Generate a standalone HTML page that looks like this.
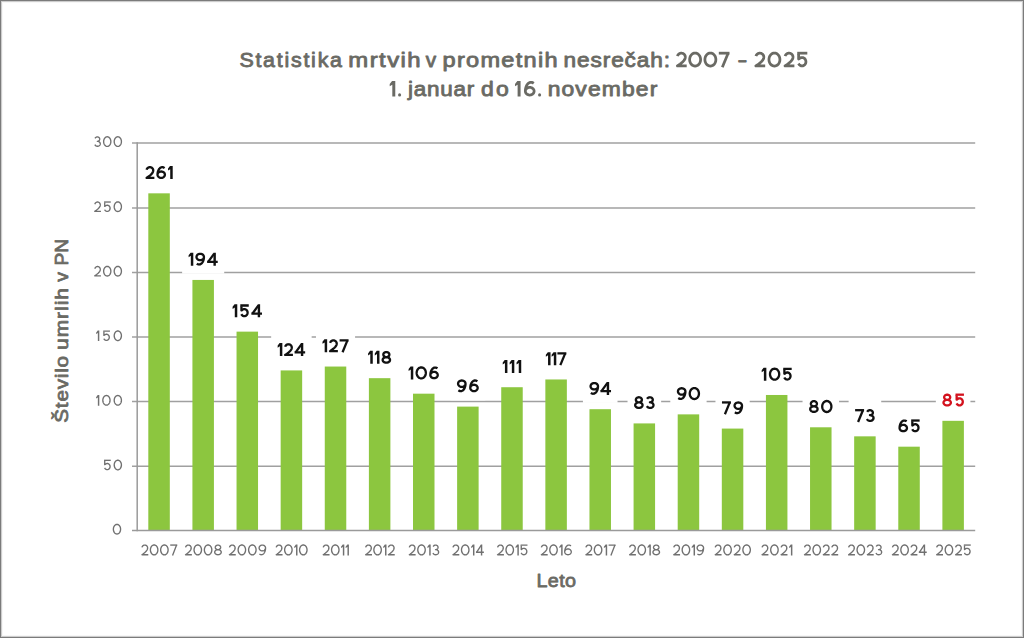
<!DOCTYPE html>
<html><head><meta charset="utf-8"><style>
html,body{margin:0;padding:0;background:#fff;}
body{width:1024px;height:638px;overflow:hidden;position:relative;}
.frame{position:absolute;left:0;top:0;width:1022px;height:636px;border:1px solid #7b7b7b;box-shadow:inset 0 0 0 1px #cdcdcd, inset 0 0 0 2px #f7f7f7;}
svg{position:absolute;left:0;top:0;}
text{font-family:"Liberation Sans",sans-serif;}
</style></head><body>
<svg width="1024" height="638" viewBox="0 0 1024 638">
<text x="0.00" y="67.20" font-size="20.7" font-weight="normal" fill="#6a6a64" stroke="#6a6a64" stroke-width="0.85" stroke-linejoin="round" textLength="99.29" lengthAdjust="spacing" transform="translate(239.39,0) scale(1.0332,1)">Statistika</text>
<text x="0.00" y="67.20" font-size="20.7" font-weight="normal" fill="#6a6a64" stroke="#6a6a64" stroke-width="0.85" stroke-linejoin="round" textLength="62.52" lengthAdjust="spacing" transform="translate(348.35,0) scale(1.1544,1)">mrtvih</text>
<text x="0.00" y="67.20" font-size="20.7" font-weight="normal" fill="#6a6a64" stroke="#6a6a64" stroke-width="0.85" stroke-linejoin="round" transform="translate(425.85,0) scale(1.0022,1)">v</text>
<text x="0.00" y="67.20" font-size="20.7" font-weight="normal" fill="#6a6a64" stroke="#6a6a64" stroke-width="0.85" stroke-linejoin="round" textLength="101.18" lengthAdjust="spacing" transform="translate(442.49,0) scale(1.1379,1)">prometnih</text>
<text x="0.00" y="67.20" font-size="20.7" font-weight="normal" fill="#6a6a64" stroke="#6a6a64" stroke-width="0.85" stroke-linejoin="round" textLength="97.32" lengthAdjust="spacing" transform="translate(563.55,0) scale(1.0944,1)">nesrečah:</text>
<path d="M677.46,56.2 L677.6,55.72 L677.81,55.26 L678.07,54.83 L678.4,54.44 L678.77,54.09 L679.18,53.79 L679.64,53.55 L680.12,53.36 L680.62,53.24 L681.14,53.18 L681.66,53.19 L682.17,53.26 L682.67,53.39 L683.15,53.59 L683.6,53.85 L684.01,54.16 L684.37,54.52 L684.68,54.92 L684.93,55.35 L685.13,55.82 L685.25,56.3 L685.31,56.8 L685.31,57.3 L685.23,57.8 L685.1,58.46 L684.82,59.15 L684.4,59.88 L683.83,60.64 L683.11,61.44 L682.26,62.27 L681.25,63.13 L680.1,64.03 L678.81,64.96 L677.38,65.92 L686.7,65.92 M700.6,59.55 L700.49,60.82 L700.18,62.05 L699.67,63.18 L698.99,64.16 L698.16,64.98 L697.21,65.58 L696.18,65.95 L695.11,66.08 L694.04,65.95 L693.01,65.58 L692.07,64.98 L691.23,64.16 L690.55,63.18 L690.05,62.05 L689.73,60.82 L689.63,59.55 L689.73,58.28 L690.05,57.05 L690.55,55.92 L691.23,54.94 L692.07,54.12 L693.01,53.52 L694.04,53.15 L695.11,53.02 L696.18,53.15 L697.21,53.52 L698.16,54.12 L698.99,54.94 L699.67,55.92 L700.18,57.05 L700.49,58.28 L700.6,59.55 Z M715.87,59.55 L715.77,60.82 L715.45,62.05 L714.95,63.18 L714.27,64.16 L713.43,64.98 L712.49,65.58 L711.46,65.95 L710.39,66.08 L709.32,65.95 L708.29,65.58 L707.34,64.98 L706.51,64.16 L705.83,63.18 L705.32,62.05 L705.01,60.82 L704.9,59.55 L705.01,58.28 L705.32,57.05 L705.83,55.92 L706.51,54.94 L707.34,54.12 L708.29,53.52 L709.32,53.15 L710.39,53.02 L711.46,53.15 L712.49,53.52 L713.43,54.12 L714.27,54.94 L714.95,55.92 L715.45,57.05 L715.77,58.28 L715.87,59.55 Z M728.13,53.17 L722.33,67.3" fill="none" stroke="#6a6a64" stroke-width="2.75" stroke-linecap="butt" stroke-linejoin="round"/><path d="M718.81,51.8 L729.5,51.8 L729.5,54.55 L718.81,54.55 Z" fill="#6a6a64"/>
<text x="0.00" y="67.20" font-size="20.7" font-weight="normal" fill="#6a6a64" stroke="#6a6a64" stroke-width="0.85" stroke-linejoin="round" transform="translate(737.41,0) scale(1.4202,1)">-</text>
<path d="M755.96,56.2 L756.1,55.72 L756.31,55.26 L756.57,54.83 L756.9,54.44 L757.27,54.09 L757.68,53.79 L758.14,53.55 L758.62,53.36 L759.12,53.24 L759.64,53.18 L760.16,53.19 L760.67,53.26 L761.17,53.39 L761.65,53.59 L762.1,53.85 L762.51,54.16 L762.87,54.52 L763.18,54.92 L763.43,55.35 L763.63,55.82 L763.75,56.3 L763.81,56.8 L763.81,57.3 L763.73,57.8 L763.6,58.46 L763.32,59.15 L762.9,59.88 L762.33,60.64 L761.61,61.44 L760.76,62.27 L759.75,63.13 L758.6,64.03 L757.31,64.96 L755.88,65.92 L765.2,65.92 M779.92,59.55 L779.82,60.82 L779.5,62.05 L779,63.18 L778.32,64.16 L777.48,64.98 L776.54,65.58 L775.51,65.95 L774.44,66.08 L773.37,65.95 L772.34,65.58 L771.39,64.98 L770.56,64.16 L769.88,63.18 L769.37,62.05 L769.06,60.82 L768.95,59.55 L769.06,58.28 L769.37,57.05 L769.88,55.92 L770.56,54.94 L771.39,54.12 L772.34,53.52 L773.37,53.15 L774.44,53.02 L775.51,53.15 L776.54,53.52 L777.48,54.12 L778.32,54.94 L779,55.92 L779.5,57.05 L779.82,58.28 L779.92,59.55 Z M785.14,56.2 L785.28,55.72 L785.49,55.26 L785.75,54.83 L786.08,54.44 L786.45,54.09 L786.86,53.79 L787.32,53.55 L787.8,53.36 L788.3,53.24 L788.82,53.18 L789.34,53.19 L789.85,53.26 L790.35,53.39 L790.83,53.59 L791.28,53.85 L791.69,54.16 L792.05,54.52 L792.36,54.92 L792.61,55.35 L792.81,55.82 L792.93,56.3 L793,56.8 L792.99,57.3 L792.91,57.8 L792.78,58.46 L792.5,59.15 L792.08,59.88 L791.51,60.64 L790.79,61.44 L789.94,62.27 L788.93,63.13 L787.79,64.03 L786.49,64.96 L785.06,65.92 L794.38,65.92 M798.6,54 L798.6,59.11 L799.17,58.86 L799.72,58.33 L800.35,57.92 L801.04,57.65 L801.77,57.52 L802.5,57.54 L803.22,57.71 L803.89,58.02 L804.5,58.47 L805.02,59.03 L805.44,59.68 L805.73,60.41 L805.89,61.18 L805.92,61.97 L805.8,62.76 L805.56,63.51 L805.18,64.19 L804.7,64.78 L804.12,65.27 L803.46,65.63 L802.76,65.85 L802.03,65.92 L801.29,65.85 L800.59,65.63 L799.94,65.26 L799.36,64.78 L798.87,64.18 L798.5,63.5" fill="none" stroke="#6a6a64" stroke-width="2.75" stroke-linecap="butt" stroke-linejoin="round"/><path d="M797.23,51.8 L807.3,51.8 L807.3,54.55 L797.23,54.55 Z" fill="#6a6a64"/>
<path d="M395.28,80.9 L395.28,96.4 L392.31,96.4 L392.31,84.69 L389.7,86.36 L389.7,83.88 L392.03,80.9 Z" fill="#6a6a64"/>
<circle cx="399.60" cy="94.90" r="1.55" fill="#6a6a64"/>
<text x="0.00" y="96.40" font-size="20.7" font-weight="normal" fill="#6a6a64" stroke="#6a6a64" stroke-width="0.85" stroke-linejoin="round" textLength="61.21" lengthAdjust="spacing" transform="translate(407.93,0) scale(1.0846,1)">januar</text>
<text x="0.00" y="96.40" font-size="20.7" font-weight="normal" fill="#6a6a64" stroke="#6a6a64" stroke-width="0.85" stroke-linejoin="round" textLength="24.88" lengthAdjust="spacing" transform="translate(481.06,0) scale(1.1090,1)">do</text>
<path d="M534.12,91.2 L534.01,92.05 L533.69,92.86 L533.17,93.58 L532.47,94.19 L531.63,94.65 L530.71,94.93 L529.73,95.03 L528.75,94.93 L527.82,94.65 L526.98,94.19 L526.29,93.58 L525.76,92.86 L525.44,92.05 L525.33,91.2 L525.44,90.35 L525.76,89.54 L526.29,88.82 L526.98,88.21 L527.82,87.75 L528.75,87.47 L529.73,87.38 L530.71,87.47 L531.63,87.75 L532.47,88.21 L533.17,88.82 L533.69,89.54 L534.01,90.35 L534.12,91.2 Z M533.73,83.32 L533.14,82.89 L532.52,82.57 L531.87,82.37 L531.22,82.28 L530.57,82.31 L529.92,82.45 L529.29,82.71 L528.68,83.08 L528.1,83.55 L527.56,84.12 L527.07,84.79 L526.62,85.54 L526.24,86.37 L525.92,87.26 L525.66,88.2 L525.48,89.18 L525.36,90.18 L525.33,91.2" fill="none" stroke="#6a6a64" stroke-width="2.75" stroke-linecap="butt" stroke-linejoin="round"/><path d="M520.58,80.9 L520.58,96.4 L517.61,96.4 L517.61,84.69 L515,86.36 L515,83.88 L517.34,80.9 Z" fill="#6a6a64"/>
<circle cx="539.60" cy="94.90" r="1.55" fill="#6a6a64"/>
<text x="0.00" y="96.40" font-size="20.7" font-weight="normal" fill="#6a6a64" stroke="#6a6a64" stroke-width="0.85" stroke-linejoin="round" textLength="99.22" lengthAdjust="spacing" transform="translate(547.65,0) scale(1.1053,1)">november</text>
<line x1="132" y1="466.30" x2="975.2" y2="466.30" stroke="#a0a0a0" stroke-width="1.5"/>
<line x1="132" y1="401.60" x2="975.2" y2="401.60" stroke="#a0a0a0" stroke-width="1.5"/>
<line x1="132" y1="337.05" x2="975.2" y2="337.05" stroke="#a0a0a0" stroke-width="1.5"/>
<line x1="132" y1="272.50" x2="975.2" y2="272.50" stroke="#a0a0a0" stroke-width="1.5"/>
<line x1="132" y1="208.00" x2="975.2" y2="208.00" stroke="#a0a0a0" stroke-width="1.5"/>
<line x1="132" y1="142.90" x2="975.2" y2="142.90" stroke="#a0a0a0" stroke-width="1.5"/>
<rect x="148.31" y="193.33" width="21.5" height="337.37" fill="#8cc63f"/>
<rect x="192.42" y="279.94" width="21.5" height="250.76" fill="#8cc63f"/>
<rect x="236.54" y="331.64" width="21.5" height="199.06" fill="#8cc63f"/>
<rect x="280.66" y="370.42" width="21.5" height="160.28" fill="#8cc63f"/>
<rect x="324.77" y="366.54" width="21.5" height="164.16" fill="#8cc63f"/>
<rect x="368.89" y="378.17" width="21.5" height="152.53" fill="#8cc63f"/>
<rect x="413.00" y="393.68" width="21.5" height="137.02" fill="#8cc63f"/>
<rect x="457.12" y="406.61" width="21.5" height="124.09" fill="#8cc63f"/>
<rect x="501.23" y="387.22" width="21.5" height="143.48" fill="#8cc63f"/>
<rect x="545.35" y="379.47" width="21.5" height="151.23" fill="#8cc63f"/>
<rect x="589.47" y="409.20" width="21.5" height="121.50" fill="#8cc63f"/>
<rect x="633.58" y="423.41" width="21.5" height="107.29" fill="#8cc63f"/>
<rect x="677.70" y="414.37" width="21.5" height="116.33" fill="#8cc63f"/>
<rect x="721.81" y="428.58" width="21.5" height="102.12" fill="#8cc63f"/>
<rect x="765.93" y="394.98" width="21.5" height="135.72" fill="#8cc63f"/>
<rect x="810.04" y="427.29" width="21.5" height="103.41" fill="#8cc63f"/>
<rect x="854.16" y="436.34" width="21.5" height="94.36" fill="#8cc63f"/>
<rect x="898.28" y="446.68" width="21.5" height="84.02" fill="#8cc63f"/>
<rect x="942.39" y="420.83" width="21.5" height="109.87" fill="#8cc63f"/>
<line x1="132" y1="530.5" x2="975.2" y2="530.5" stroke="#9a9a9a" stroke-width="1.5"/>
<line x1="137.2" y1="142.20" x2="137.2" y2="531.2" stroke="#9a9a9a" stroke-width="1.5"/>
<path d="M120.58,529.2 L120.52,530.14 L120.31,531.05 L119.98,531.88 L119.53,532.61 L118.98,533.21 L118.36,533.66 L117.68,533.93 L116.98,534.02 L116.28,533.93 L115.6,533.66 L114.98,533.21 L114.43,532.61 L113.98,531.88 L113.65,531.05 L113.44,530.14 L113.37,529.2 L113.44,528.26 L113.65,527.35 L113.98,526.52 L114.43,525.79 L114.98,525.19 L115.6,524.74 L116.28,524.47 L116.98,524.38 L117.68,524.47 L118.36,524.74 L118.98,525.19 L119.53,525.79 L119.98,526.52 L120.31,527.35 L120.52,528.26 L120.58,529.2 Z" fill="none" stroke="#707070" stroke-width="1.35" stroke-linecap="butt" stroke-linejoin="round"/>
<path d="M104.72,460.73 L104.72,464.68 L105.14,464.49 L105.54,464.1 L106,463.81 L106.51,463.61 L107.04,463.51 L107.58,463.53 L108.1,463.65 L108.6,463.88 L109.04,464.2 L109.43,464.62 L109.73,465.1 L109.95,465.63 L110.06,466.2 L110.08,466.78 L110,467.35 L109.82,467.9 L109.54,468.4 L109.19,468.84 L108.76,469.19 L108.28,469.46 L107.76,469.62 L107.23,469.67 L106.69,469.62 L106.17,469.46 L105.69,469.19 L105.27,468.83 L104.92,468.4 L104.64,467.89 M121.42,465 L121.36,465.94 L121.15,466.85 L120.82,467.68 L120.37,468.41 L119.82,469.01 L119.2,469.46 L118.52,469.73 L117.82,469.83 L117.12,469.73 L116.44,469.46 L115.82,469.01 L115.27,468.41 L114.82,467.68 L114.49,466.85 L114.28,465.94 L114.21,465 L114.28,464.06 L114.49,463.15 L114.82,462.32 L115.27,461.59 L115.82,460.99 L116.44,460.54 L117.12,460.27 L117.82,460.18 L118.52,460.27 L119.2,460.54 L119.82,460.99 L120.37,461.59 L120.82,462.32 L121.15,463.15 L121.36,464.06 L121.42,465 Z" fill="none" stroke="#707070" stroke-width="1.35" stroke-linecap="butt" stroke-linejoin="round"/><path d="M104.04,459.65 L110.76,459.65 L110.76,461 L104.04,461 Z" fill="#707070"/>
<path d="M110.03,400.3 L109.96,401.24 L109.76,402.15 L109.42,402.98 L108.97,403.71 L108.43,404.31 L107.8,404.76 L107.13,405.03 L106.42,405.13 L105.72,405.03 L105.05,404.76 L104.42,404.31 L103.88,403.71 L103.43,402.98 L103.09,402.15 L102.89,401.24 L102.82,400.3 L102.89,399.36 L103.09,398.45 L103.43,397.62 L103.88,396.89 L104.42,396.29 L105.05,395.84 L105.72,395.57 L106.42,395.48 L107.13,395.57 L107.8,395.84 L108.43,396.29 L108.97,396.89 L109.42,397.62 L109.76,398.45 L109.96,399.36 L110.03,400.3 Z M121.42,400.3 L121.36,401.24 L121.15,402.15 L120.82,402.98 L120.37,403.71 L119.82,404.31 L119.2,404.76 L118.52,405.03 L117.82,405.13 L117.12,405.03 L116.44,404.76 L115.82,404.31 L115.27,403.71 L114.82,402.98 L114.49,402.15 L114.28,401.24 L114.21,400.3 L114.28,399.36 L114.49,398.45 L114.82,397.62 L115.27,396.89 L115.82,396.29 L116.44,395.84 L117.12,395.57 L117.82,395.48 L118.52,395.57 L119.2,395.84 L119.82,396.29 L120.37,396.89 L120.82,397.62 L121.15,398.45 L121.36,399.36 L121.42,400.3 Z" fill="none" stroke="#707070" stroke-width="1.35" stroke-linecap="butt" stroke-linejoin="round"/><path d="M99.31,394.95 L99.31,405.65 L97.85,405.65 L97.85,397.43 L96.1,398.53 L96.1,397.31 L97.72,394.95 Z" fill="#707070"/>
<path d="M103.91,331.48 L103.91,335.43 L104.33,335.24 L104.73,334.85 L105.19,334.56 L105.7,334.36 L106.23,334.26 L106.77,334.28 L107.3,334.4 L107.79,334.63 L108.24,334.95 L108.62,335.37 L108.92,335.85 L109.14,336.38 L109.26,336.95 L109.28,337.53 L109.19,338.1 L109.01,338.65 L108.74,339.15 L108.38,339.59 L107.96,339.94 L107.48,340.21 L106.96,340.37 L106.42,340.42 L105.89,340.37 L105.37,340.21 L104.89,339.94 L104.46,339.58 L104.11,339.15 L103.84,338.64 M121.42,335.75 L121.36,336.69 L121.15,337.6 L120.82,338.43 L120.37,339.16 L119.82,339.76 L119.2,340.21 L118.52,340.48 L117.82,340.58 L117.12,340.48 L116.44,340.21 L115.82,339.76 L115.27,339.16 L114.82,338.43 L114.49,337.6 L114.28,336.69 L114.21,335.75 L114.28,334.81 L114.49,333.9 L114.82,333.07 L115.27,332.34 L115.82,331.74 L116.44,331.29 L117.12,331.02 L117.82,330.93 L118.52,331.02 L119.2,331.29 L119.82,331.74 L120.37,332.34 L120.82,333.07 L121.15,333.9 L121.36,334.81 L121.42,335.75 Z" fill="none" stroke="#707070" stroke-width="1.35" stroke-linecap="butt" stroke-linejoin="round"/><path d="M99.31,330.4 L99.31,341.1 L97.85,341.1 L97.85,332.88 L96.1,333.98 L96.1,332.76 L97.72,330.4 Z M103.24,330.4 L109.96,330.4 L109.96,331.75 L103.24,331.75 Z" fill="#707070"/>
<path d="M94.84,268.75 L94.93,268.39 L95.07,268.06 L95.26,267.74 L95.48,267.45 L95.74,267.2 L96.03,266.98 L96.34,266.8 L96.67,266.66 L97.02,266.57 L97.38,266.53 L97.74,266.53 L98.1,266.59 L98.44,266.69 L98.77,266.83 L99.08,267.02 L99.36,267.25 L99.61,267.51 L99.83,267.8 L100.01,268.12 L100.14,268.46 L100.23,268.82 L100.27,269.18 L100.26,269.55 L100.21,269.91 L100.12,270.4 L99.93,270.91 L99.63,271.44 L99.24,272 L98.75,272.58 L98.15,273.19 L97.46,273.83 L96.66,274.48 L95.77,275.17 L94.77,275.88 L100.95,275.88 M110.85,271.2 L110.78,272.14 L110.57,273.05 L110.24,273.88 L109.79,274.61 L109.25,275.21 L108.62,275.66 L107.95,275.93 L107.24,276.03 L106.54,275.93 L105.86,275.66 L105.24,275.21 L104.69,274.61 L104.25,273.88 L103.91,273.05 L103.71,272.14 L103.64,271.2 L103.71,270.26 L103.91,269.35 L104.25,268.52 L104.69,267.79 L105.24,267.19 L105.86,266.74 L106.54,266.47 L107.24,266.38 L107.95,266.47 L108.62,266.74 L109.25,267.19 L109.79,267.79 L110.24,268.52 L110.57,269.35 L110.78,270.26 L110.85,271.2 Z M121.42,271.2 L121.36,272.14 L121.15,273.05 L120.82,273.88 L120.37,274.61 L119.82,275.21 L119.2,275.66 L118.52,275.93 L117.82,276.03 L117.12,275.93 L116.44,275.66 L115.82,275.21 L115.27,274.61 L114.82,273.88 L114.49,273.05 L114.28,272.14 L114.21,271.2 L114.28,270.26 L114.49,269.35 L114.82,268.52 L115.27,267.79 L115.82,267.19 L116.44,266.74 L117.12,266.47 L117.82,266.38 L118.52,266.47 L119.2,266.74 L119.82,267.19 L120.37,267.79 L120.82,268.52 L121.15,269.35 L121.36,270.26 L121.42,271.2 Z" fill="none" stroke="#707070" stroke-width="1.35" stroke-linecap="butt" stroke-linejoin="round"/>
<path d="M94.84,204.25 L94.93,203.89 L95.07,203.56 L95.26,203.24 L95.48,202.95 L95.74,202.7 L96.03,202.48 L96.34,202.3 L96.67,202.16 L97.02,202.07 L97.38,202.03 L97.74,202.03 L98.1,202.09 L98.44,202.19 L98.77,202.33 L99.08,202.52 L99.36,202.75 L99.61,203.01 L99.83,203.3 L100.01,203.62 L100.14,203.96 L100.23,204.32 L100.27,204.68 L100.26,205.05 L100.21,205.41 L100.12,205.9 L99.93,206.41 L99.63,206.94 L99.24,207.5 L98.75,208.08 L98.15,208.69 L97.46,209.33 L96.66,209.98 L95.77,210.67 L94.77,211.38 L100.95,211.38 M104.73,202.43 L104.73,206.38 L105.15,206.19 L105.55,205.8 L106.01,205.51 L106.52,205.31 L107.05,205.21 L107.59,205.23 L108.11,205.35 L108.61,205.58 L109.06,205.9 L109.44,206.32 L109.74,206.8 L109.96,207.33 L110.08,207.9 L110.09,208.48 L110.01,209.05 L109.83,209.6 L109.56,210.1 L109.2,210.54 L108.77,210.89 L108.29,211.16 L107.78,211.32 L107.24,211.37 L106.7,211.32 L106.19,211.16 L105.71,210.89 L105.28,210.53 L104.93,210.1 L104.66,209.59 M121.42,206.7 L121.36,207.64 L121.15,208.55 L120.82,209.38 L120.37,210.11 L119.82,210.71 L119.2,211.16 L118.52,211.43 L117.82,211.53 L117.12,211.43 L116.44,211.16 L115.82,210.71 L115.27,210.11 L114.82,209.38 L114.49,208.55 L114.28,207.64 L114.21,206.7 L114.28,205.76 L114.49,204.85 L114.82,204.02 L115.27,203.29 L115.82,202.69 L116.44,202.24 L117.12,201.97 L117.82,201.88 L118.52,201.97 L119.2,202.24 L119.82,202.69 L120.37,203.29 L120.82,204.02 L121.15,204.85 L121.36,205.76 L121.42,206.7 Z" fill="none" stroke="#707070" stroke-width="1.35" stroke-linecap="butt" stroke-linejoin="round"/><path d="M104.06,201.35 L110.77,201.35 L110.77,202.7 L104.06,202.7 Z" fill="#707070"/>
<path d="M95.04,138.37 L95.21,138.04 L95.44,137.73 L95.72,137.47 L96.05,137.25 L96.41,137.08 L96.8,136.98 L97.2,136.93 L97.6,136.94 L98,137.02 L98.37,137.15 L98.72,137.34 L99.02,137.58 L99.28,137.86 L99.49,138.18 L99.63,138.53 L99.71,138.89 L99.72,139.25 L99.66,139.62 L99.53,139.97 L99.35,140.3 L99.1,140.59 L98.81,140.84 L98.47,141.05 L98.1,141.2 L97.71,141.29 L97.31,141.32 L97.48,141.32 L97.48,141.32 L97.95,141.35 L98.4,141.46 L98.83,141.63 L99.22,141.86 L99.56,142.14 L99.85,142.47 L100.06,142.84 L100.21,143.24 L100.27,143.65 L100.26,144.06 L100.17,144.47 L100.01,144.86 L99.77,145.22 L99.47,145.54 L99.12,145.81 L98.71,146.02 L98.28,146.17 L97.82,146.26 L97.35,146.27 L96.88,146.22 L96.43,146.1 L96.01,145.91 L95.63,145.66 L95.31,145.36 L95.04,145.02 L94.84,144.64 M110.85,141.6 L110.78,142.54 L110.58,143.45 L110.24,144.28 L109.8,145.01 L109.25,145.61 L108.63,146.06 L107.95,146.33 L107.25,146.43 L106.54,146.33 L105.87,146.06 L105.24,145.61 L104.7,145.01 L104.25,144.28 L103.92,143.45 L103.71,142.54 L103.64,141.6 L103.71,140.66 L103.92,139.75 L104.25,138.92 L104.7,138.19 L105.24,137.59 L105.87,137.14 L106.54,136.87 L107.25,136.78 L107.95,136.87 L108.63,137.14 L109.25,137.59 L109.8,138.19 L110.24,138.92 L110.58,139.75 L110.78,140.66 L110.85,141.6 Z M121.42,141.6 L121.36,142.54 L121.15,143.45 L120.82,144.28 L120.37,145.01 L119.82,145.61 L119.2,146.06 L118.52,146.33 L117.82,146.43 L117.12,146.33 L116.44,146.06 L115.82,145.61 L115.27,145.01 L114.82,144.28 L114.49,143.45 L114.28,142.54 L114.21,141.6 L114.28,140.66 L114.49,139.75 L114.82,138.92 L115.27,138.19 L115.82,137.59 L116.44,137.14 L117.12,136.87 L117.82,136.78 L118.52,136.87 L119.2,137.14 L119.82,137.59 L120.37,138.19 L120.82,138.92 L121.15,139.75 L121.36,140.66 L121.42,141.6 Z" fill="none" stroke="#707070" stroke-width="1.35" stroke-linecap="butt" stroke-linejoin="round"/>
<path d="M142,547.37 L142.1,547 L142.24,546.66 L142.43,546.33 L142.66,546.03 L142.93,545.77 L143.23,545.54 L143.55,545.36 L143.9,545.22 L144.26,545.12 L144.63,545.08 L145,545.08 L145.37,545.14 L145.73,545.24 L146.07,545.39 L146.39,545.58 L146.68,545.82 L146.94,546.09 L147.16,546.39 L147.35,546.72 L147.48,547.08 L147.58,547.44 L147.62,547.82 L147.61,548.2 L147.56,548.57 L147.46,549.07 L147.26,549.6 L146.96,550.15 L146.55,550.73 L146.04,551.33 L145.43,551.96 L144.71,552.61 L143.89,553.29 L142.96,553.99 L141.93,554.73 L148.3,554.73 M157.86,549.9 L157.79,550.87 L157.58,551.8 L157.24,552.66 L156.77,553.42 L156.21,554.04 L155.56,554.5 L154.86,554.78 L154.14,554.88 L153.41,554.78 L152.71,554.5 L152.07,554.04 L151.5,553.42 L151.04,552.66 L150.7,551.8 L150.48,550.87 L150.41,549.9 L150.48,548.93 L150.7,548 L151.04,547.14 L151.5,546.38 L152.07,545.76 L152.71,545.3 L153.41,545.02 L154.14,544.92 L154.86,545.02 L155.56,545.3 L156.21,545.76 L156.77,546.38 L157.24,547.14 L157.58,548 L157.79,548.93 L157.86,549.9 Z M168.1,549.9 L168.03,550.87 L167.82,551.8 L167.48,552.66 L167.01,553.42 L166.45,554.04 L165.8,554.5 L165.1,554.78 L164.38,554.88 L163.65,554.78 L162.95,554.5 L162.31,554.04 L161.74,553.42 L161.28,552.66 L160.94,551.8 L160.72,550.87 L160.65,549.9 L160.72,548.93 L160.94,548 L161.28,547.14 L161.74,546.38 L162.31,545.76 L162.95,545.3 L163.65,545.02 L164.38,544.92 L165.1,545.02 L165.8,545.3 L166.45,545.76 L167.01,546.38 L167.48,547.14 L167.82,548 L168.03,548.93 L168.1,549.9 Z M176.58,545.07 L172.54,555.4" fill="none" stroke="#707070" stroke-width="1.35" stroke-linecap="butt" stroke-linejoin="round"/><path d="M170.22,544.4 L177.26,544.4 L177.26,545.75 L170.22,545.75 Z" fill="#707070"/>
<path d="M185.56,547.37 L185.66,547 L185.81,546.66 L186,546.33 L186.23,546.03 L186.5,545.77 L186.79,545.54 L187.12,545.36 L187.46,545.22 L187.83,545.12 L188.19,545.08 L188.57,545.08 L188.94,545.14 L189.29,545.24 L189.64,545.39 L189.96,545.58 L190.25,545.82 L190.51,546.09 L190.73,546.39 L190.91,546.72 L191.05,547.08 L191.14,547.44 L191.18,547.82 L191.18,548.2 L191.13,548.57 L191.03,549.07 L190.83,549.6 L190.53,550.15 L190.12,550.73 L189.61,551.33 L188.99,551.96 L188.28,552.61 L187.45,553.29 L186.53,553.99 L185.5,554.73 L191.86,554.73 M201.5,549.9 L201.43,550.87 L201.22,551.8 L200.87,552.66 L200.41,553.42 L199.85,554.04 L199.2,554.5 L198.5,554.78 L197.78,554.88 L197.05,554.78 L196.35,554.5 L195.71,554.04 L195.14,553.42 L194.68,552.66 L194.34,551.8 L194.12,550.87 L194.05,549.9 L194.12,548.93 L194.34,548 L194.68,547.14 L195.14,546.38 L195.71,545.76 L196.35,545.3 L197.05,545.02 L197.78,544.92 L198.5,545.02 L199.2,545.3 L199.85,545.76 L200.41,546.38 L200.87,547.14 L201.22,548 L201.43,548.93 L201.5,549.9 Z M211.82,549.9 L211.74,550.87 L211.53,551.8 L211.19,552.66 L210.72,553.42 L210.16,554.04 L209.52,554.5 L208.82,554.78 L208.09,554.88 L207.36,554.78 L206.66,554.5 L206.02,554.04 L205.46,553.42 L204.99,552.66 L204.65,551.8 L204.44,550.87 L204.37,549.9 L204.44,548.93 L204.65,548 L204.99,547.14 L205.46,546.38 L206.02,545.76 L206.66,545.3 L207.36,545.02 L208.09,544.92 L208.82,545.02 L209.52,545.3 L210.16,545.76 L210.72,546.38 L211.19,547.14 L211.53,548 L211.74,548.93 L211.82,549.9 Z M220.66,547.39 L220.59,547.91 L220.39,548.4 L220.07,548.84 L219.64,549.2 L219.13,549.48 L218.56,549.65 L217.96,549.71 L217.36,549.65 L216.79,549.48 L216.28,549.2 L215.86,548.84 L215.54,548.4 L215.34,547.91 L215.27,547.39 L215.34,546.88 L215.54,546.39 L215.86,545.95 L216.28,545.58 L216.79,545.3 L217.36,545.13 L217.96,545.07 L218.56,545.13 L219.13,545.3 L219.64,545.58 L220.07,545.95 L220.39,546.39 L220.59,546.88 L220.66,547.39 Z M221.25,552.22 L221.17,552.77 L220.92,553.3 L220.53,553.78 L220.01,554.18 L219.39,554.48 L218.69,554.66 L217.96,554.73 L217.23,554.66 L216.54,554.48 L215.92,554.18 L215.4,553.78 L215,553.3 L214.76,552.77 L214.68,552.22 L214.76,551.66 L215,551.13 L215.4,550.65 L215.92,550.25 L216.54,549.96 L217.23,549.77 L217.96,549.71 L218.69,549.77 L219.39,549.96 L220.01,550.25 L220.53,550.65 L220.92,551.13 L221.17,551.66 L221.25,552.22 Z" fill="none" stroke="#707070" stroke-width="1.35" stroke-linecap="butt" stroke-linejoin="round"/>
<path d="M229.48,547.37 L229.58,547 L229.72,546.66 L229.91,546.33 L230.15,546.03 L230.41,545.77 L230.71,545.54 L231.03,545.36 L231.38,545.22 L231.74,545.12 L232.11,545.08 L232.48,545.08 L232.85,545.14 L233.21,545.24 L233.55,545.39 L233.87,545.58 L234.16,545.82 L234.42,546.09 L234.65,546.39 L234.83,546.72 L234.97,547.08 L235.06,547.44 L235.1,547.82 L235.1,548.2 L235.04,548.57 L234.95,549.07 L234.75,549.6 L234.44,550.15 L234.04,550.73 L233.52,551.33 L232.91,551.96 L232.19,552.61 L231.37,553.29 L230.44,553.99 L229.41,554.73 L235.78,554.73 M245.59,549.9 L245.52,550.87 L245.3,551.8 L244.96,552.66 L244.5,553.42 L243.93,554.04 L243.29,554.5 L242.59,554.78 L241.86,554.88 L241.14,554.78 L240.44,554.5 L239.79,554.04 L239.23,553.42 L238.77,552.66 L238.42,551.8 L238.21,550.87 L238.14,549.9 L238.21,548.93 L238.42,548 L238.77,547.14 L239.23,546.38 L239.79,545.76 L240.44,545.3 L241.14,545.02 L241.86,544.92 L242.59,545.02 L243.29,545.3 L243.93,545.76 L244.5,546.38 L244.96,547.14 L245.3,548 L245.52,548.93 L245.59,549.9 Z M256.07,549.9 L256,550.87 L255.79,551.8 L255.44,552.66 L254.98,553.42 L254.42,554.04 L253.77,554.5 L253.07,554.78 L252.35,554.88 L251.62,554.78 L250.92,554.5 L250.28,554.04 L249.71,553.42 L249.25,552.66 L248.9,551.8 L248.69,550.87 L248.62,549.9 L248.69,548.93 L248.9,548 L249.25,547.14 L249.71,546.38 L250.28,545.76 L250.92,545.3 L251.62,545.02 L252.35,544.92 L253.07,545.02 L253.77,545.3 L254.42,545.76 L254.98,546.38 L255.44,547.14 L255.79,548 L256,548.93 L256.07,549.9 Z M265.56,547.97 L265.48,548.61 L265.24,549.23 L264.86,549.78 L264.35,550.23 L263.74,550.58 L263.05,550.79 L262.33,550.87 L261.62,550.79 L260.93,550.58 L260.32,550.23 L259.81,549.78 L259.42,549.23 L259.19,548.61 L259.1,547.97 L259.19,547.33 L259.42,546.71 L259.81,546.16 L260.32,545.71 L260.93,545.36 L261.62,545.15 L262.33,545.07 L263.05,545.15 L263.74,545.36 L264.35,545.71 L264.86,546.16 L265.24,546.71 L265.48,547.33 L265.56,547.97 Z M259.39,553.93 L259.83,554.26 L260.29,554.5 L260.76,554.65 L261.24,554.72 L261.72,554.7 L262.19,554.59 L262.66,554.4 L263.1,554.12 L263.53,553.76 L263.92,553.33 L264.29,552.82 L264.61,552.25 L264.9,551.63 L265.13,550.95 L265.32,550.24 L265.46,549.5 L265.54,548.74 L265.56,547.97" fill="none" stroke="#707070" stroke-width="1.35" stroke-linecap="butt" stroke-linejoin="round"/>
<path d="M276.24,547.37 L276.34,547 L276.49,546.66 L276.68,546.33 L276.91,546.03 L277.18,545.77 L277.48,545.54 L277.8,545.36 L278.15,545.22 L278.51,545.12 L278.88,545.08 L279.25,545.08 L279.62,545.14 L279.97,545.24 L280.32,545.39 L280.64,545.58 L280.93,545.82 L281.19,546.09 L281.41,546.39 L281.59,546.72 L281.73,547.08 L281.82,547.44 L281.87,547.82 L281.86,548.2 L281.81,548.57 L281.71,549.07 L281.51,549.6 L281.21,550.15 L280.8,550.73 L280.29,551.33 L279.68,551.96 L278.96,552.61 L278.14,553.29 L277.21,553.99 L276.18,554.73 L282.55,554.73 M292.09,549.9 L292.02,550.87 L291.81,551.8 L291.46,552.66 L291,553.42 L290.43,554.04 L289.79,554.5 L289.09,554.78 L288.37,554.88 L287.64,554.78 L286.94,554.5 L286.3,554.04 L285.73,553.42 L285.27,552.66 L284.92,551.8 L284.71,550.87 L284.64,549.9 L284.71,548.93 L284.92,548 L285.27,547.14 L285.73,546.38 L286.3,545.76 L286.94,545.3 L287.64,545.02 L288.37,544.92 L289.09,545.02 L289.79,545.3 L290.43,545.76 L291,546.38 L291.46,547.14 L291.81,548 L292.02,548.93 L292.09,549.9 Z M307.03,549.9 L306.96,550.87 L306.75,551.8 L306.4,552.66 L305.94,553.42 L305.37,554.04 L304.73,554.5 L304.03,554.78 L303.31,554.88 L302.58,554.78 L301.88,554.5 L301.24,554.04 L300.67,553.42 L300.21,552.66 L299.86,551.8 L299.65,550.87 L299.58,549.9 L299.65,548.93 L299.86,548 L300.21,547.14 L300.67,546.38 L301.24,545.76 L301.88,545.3 L302.58,545.02 L303.31,544.92 L304.03,545.02 L304.73,545.3 L305.37,545.76 L305.94,546.38 L306.4,547.14 L306.75,548 L306.96,548.93 L307.03,549.9 Z" fill="none" stroke="#707070" stroke-width="1.35" stroke-linecap="butt" stroke-linejoin="round"/><path d="M297.49,544.4 L297.49,555.4 L296.03,555.4 L296.03,546.94 L294.19,548.06 L294.19,546.85 L295.89,544.4 Z" fill="#707070"/>
<path d="M323.26,547.37 L323.36,547 L323.51,546.66 L323.7,546.33 L323.93,546.03 L324.19,545.77 L324.49,545.54 L324.82,545.36 L325.16,545.22 L325.52,545.12 L325.89,545.08 L326.26,545.08 L326.63,545.14 L326.99,545.24 L327.33,545.39 L327.65,545.58 L327.94,545.82 L328.2,546.09 L328.43,546.39 L328.61,546.72 L328.75,547.08 L328.84,547.44 L328.88,547.82 L328.88,548.2 L328.82,548.57 L328.73,549.07 L328.53,549.6 L328.22,550.15 L327.82,550.73 L327.31,551.33 L326.69,551.96 L325.97,552.61 L325.15,553.29 L324.23,553.99 L323.2,554.73 L329.56,554.73 M339.01,549.9 L338.93,550.87 L338.72,551.8 L338.38,552.66 L337.92,553.42 L337.35,554.04 L336.71,554.5 L336.01,554.78 L335.28,554.88 L334.55,554.78 L333.86,554.5 L333.21,554.04 L332.65,553.42 L332.18,552.66 L331.84,551.8 L331.63,550.87 L331.56,549.9 L331.63,548.93 L331.84,548 L332.18,547.14 L332.65,546.38 L333.21,545.76 L333.86,545.3 L334.55,545.02 L335.28,544.92 L336.01,545.02 L336.71,545.3 L337.35,545.76 L337.92,546.38 L338.38,547.14 L338.72,548 L338.93,548.93 L339.01,549.9 Z" fill="none" stroke="#707070" stroke-width="1.35" stroke-linecap="butt" stroke-linejoin="round"/><path d="M344.3,544.4 L344.3,555.4 L342.84,555.4 L342.84,546.94 L341,548.06 L341,546.85 L342.71,544.4 Z M348.92,544.4 L348.92,555.4 L347.46,555.4 L347.46,546.94 L345.62,548.06 L345.62,546.85 L347.33,544.4 Z" fill="#707070"/>
<path d="M365.67,547.37 L365.78,547 L365.92,546.66 L366.11,546.33 L366.34,546.03 L366.61,545.77 L366.91,545.54 L367.23,545.36 L367.58,545.22 L367.94,545.12 L368.31,545.08 L368.68,545.08 L369.05,545.14 L369.41,545.24 L369.75,545.39 L370.07,545.58 L370.36,545.82 L370.62,546.09 L370.84,546.39 L371.02,546.72 L371.16,547.08 L371.25,547.44 L371.3,547.82 L371.29,548.2 L371.24,548.57 L371.14,549.07 L370.94,549.6 L370.64,550.15 L370.23,550.73 L369.72,551.33 L369.11,551.96 L368.39,552.61 L367.57,553.29 L366.64,553.99 L365.61,554.73 L371.98,554.73 M381.31,549.9 L381.24,550.87 L381.02,551.8 L380.68,552.66 L380.22,553.42 L379.65,554.04 L379.01,554.5 L378.31,554.78 L377.58,554.88 L376.86,554.78 L376.16,554.5 L375.51,554.04 L374.95,553.42 L374.49,552.66 L374.14,551.8 L373.93,550.87 L373.86,549.9 L373.93,548.93 L374.14,548 L374.49,547.14 L374.95,546.38 L375.51,545.76 L376.16,545.3 L376.86,545.02 L377.58,544.92 L378.31,545.02 L379.01,545.3 L379.65,545.76 L380.22,546.38 L380.68,547.14 L381.02,548 L381.24,548.93 L381.31,549.9 Z M388.43,547.37 L388.54,547 L388.68,546.66 L388.87,546.33 L389.1,546.03 L389.37,545.77 L389.67,545.54 L389.99,545.36 L390.34,545.22 L390.7,545.12 L391.07,545.08 L391.44,545.08 L391.81,545.14 L392.17,545.24 L392.51,545.39 L392.83,545.58 L393.12,545.82 L393.38,546.09 L393.6,546.39 L393.78,546.72 L393.92,547.08 L394.01,547.44 L394.06,547.82 L394.05,548.2 L394,548.57 L393.9,549.07 L393.7,549.6 L393.4,550.15 L392.99,550.73 L392.48,551.33 L391.87,551.96 L391.15,552.61 L390.33,553.29 L389.4,553.99 L388.37,554.73 L394.74,554.73" fill="none" stroke="#707070" stroke-width="1.35" stroke-linecap="butt" stroke-linejoin="round"/><path d="M386.49,544.4 L386.49,555.4 L385.03,555.4 L385.03,546.94 L383.19,548.06 L383.19,546.85 L384.9,544.4 Z" fill="#707070"/>
<path d="M409.34,547.37 L409.44,547 L409.59,546.66 L409.78,546.33 L410.01,546.03 L410.27,545.77 L410.57,545.54 L410.9,545.36 L411.24,545.22 L411.6,545.12 L411.97,545.08 L412.35,545.08 L412.71,545.14 L413.07,545.24 L413.41,545.39 L413.73,545.58 L414.03,545.82 L414.29,546.09 L414.51,546.39 L414.69,546.72 L414.83,547.08 L414.92,547.44 L414.96,547.82 L414.96,548.2 L414.91,548.57 L414.81,549.07 L414.61,549.6 L414.31,550.15 L413.9,550.73 L413.39,551.33 L412.77,551.96 L412.05,552.61 L411.23,553.29 L410.31,553.99 L409.28,554.73 L415.64,554.73 M425.24,549.9 L425.17,550.87 L424.95,551.8 L424.61,552.66 L424.15,553.42 L423.58,554.04 L422.94,554.5 L422.24,554.78 L421.51,554.88 L420.79,554.78 L420.09,554.5 L419.44,554.04 L418.88,553.42 L418.42,552.66 L418.07,551.8 L417.86,550.87 L417.79,549.9 L417.86,548.93 L418.07,548 L418.42,547.14 L418.88,546.38 L419.44,545.76 L420.09,545.3 L420.79,545.02 L421.51,544.92 L422.24,545.02 L422.94,545.3 L423.58,545.76 L424.15,546.38 L424.61,547.14 L424.95,548 L425.17,548.93 L425.24,549.9 Z M433.21,546.57 L433.39,546.22 L433.62,545.91 L433.91,545.64 L434.25,545.41 L434.62,545.24 L435.02,545.13 L435.44,545.08 L435.85,545.09 L436.26,545.17 L436.65,545.31 L437.01,545.5 L437.33,545.75 L437.6,546.04 L437.81,546.37 L437.95,546.73 L438.03,547.1 L438.04,547.48 L437.98,547.86 L437.85,548.22 L437.66,548.55 L437.41,548.86 L437.1,549.12 L436.76,549.33 L436.38,549.48 L435.97,549.58 L435.55,549.61 L435.73,549.61 L435.73,549.61 L436.21,549.65 L436.68,549.75 L437.13,549.93 L437.53,550.17 L437.89,550.46 L438.18,550.8 L438.4,551.18 L438.55,551.59 L438.62,552.01 L438.61,552.44 L438.52,552.86 L438.35,553.26 L438.1,553.63 L437.79,553.96 L437.42,554.24 L437.01,554.46 L436.55,554.62 L436.08,554.71 L435.59,554.72 L435.11,554.67 L434.64,554.54 L434.21,554.35 L433.82,554.09 L433.48,553.79 L433.21,553.43 L433,553.04" fill="none" stroke="#707070" stroke-width="1.35" stroke-linecap="butt" stroke-linejoin="round"/><path d="M430.68,544.4 L430.68,555.4 L429.22,555.4 L429.22,546.94 L427.38,548.06 L427.38,546.85 L429.09,544.4 Z" fill="#707070"/>
<path d="M453.01,547.37 L453.11,547 L453.25,546.66 L453.44,546.33 L453.67,546.03 L453.94,545.77 L454.24,545.54 L454.56,545.36 L454.91,545.22 L455.27,545.12 L455.64,545.08 L456.01,545.08 L456.38,545.14 L456.74,545.24 L457.08,545.39 L457.4,545.58 L457.69,545.82 L457.95,546.09 L458.17,546.39 L458.36,546.72 L458.49,547.08 L458.59,547.44 L458.63,547.82 L458.62,548.2 L458.57,548.57 L458.47,549.07 L458.27,549.6 L457.97,550.15 L457.56,550.73 L457.05,551.33 L456.44,551.96 L455.72,552.61 L454.9,553.29 L453.97,553.99 L452.94,554.73 L459.31,554.73 M468.95,549.9 L468.88,550.87 L468.66,551.8 L468.32,552.66 L467.86,553.42 L467.29,554.04 L466.65,554.5 L465.95,554.78 L465.22,554.88 L464.5,554.78 L463.8,554.5 L463.15,554.04 L462.59,553.42 L462.12,552.66 L461.78,551.8 L461.57,550.87 L461.5,549.9 L461.57,548.93 L461.78,548 L462.12,547.14 L462.59,546.38 L463.15,545.76 L463.8,545.3 L464.5,545.02 L465.22,544.92 L465.95,545.02 L466.65,545.3 L467.29,545.76 L467.86,546.38 L468.32,547.14 L468.66,548 L468.88,548.93 L468.95,549.9 Z M481.29,545.01 L476.56,552.26" fill="none" stroke="#707070" stroke-width="1.35" stroke-linecap="butt" stroke-linejoin="round"/><path d="M474.44,544.4 L474.44,555.4 L472.98,555.4 L472.98,546.94 L471.14,548.06 L471.14,546.85 L472.84,544.4 Z M480.86,544.4 L482.28,544.4 L482.28,555.4 L480.86,555.4 Z M475.95,551.59 L483.87,551.59 L483.87,552.94 L475.95,552.94 Z" fill="#707070"/>
<path d="M497.62,547.37 L497.72,547 L497.87,546.66 L498.06,546.33 L498.29,546.03 L498.56,545.77 L498.85,545.54 L499.18,545.36 L499.53,545.22 L499.89,545.12 L500.26,545.08 L500.63,545.08 L501,545.14 L501.35,545.24 L501.7,545.39 L502.02,545.58 L502.31,545.82 L502.57,546.09 L502.79,546.39 L502.97,546.72 L503.11,547.08 L503.2,547.44 L503.25,547.82 L503.24,548.2 L503.19,548.57 L503.09,549.07 L502.89,549.6 L502.59,550.15 L502.18,550.73 L501.67,551.33 L501.05,551.96 L500.34,552.61 L499.51,553.29 L498.59,553.99 L497.56,554.73 L503.92,554.73 M513.45,549.9 L513.38,550.87 L513.17,551.8 L512.82,552.66 L512.36,553.42 L511.79,554.04 L511.15,554.5 L510.45,554.78 L509.72,554.88 L509,554.78 L508.3,554.5 L507.65,554.04 L507.09,553.42 L506.63,552.66 L506.28,551.8 L506.07,550.87 L506,549.9 L506.07,548.93 L506.28,548 L506.63,547.14 L507.09,546.38 L507.65,545.76 L508.3,545.3 L509,545.02 L509.72,544.92 L510.45,545.02 L511.15,545.3 L511.79,545.76 L512.36,546.38 L512.82,547.14 L513.17,548 L513.38,548.93 L513.45,549.9 Z M521.25,545.48 L521.25,549.57 L521.69,549.38 L522.1,548.98 L522.58,548.67 L523.1,548.46 L523.65,548.36 L524.21,548.38 L524.76,548.51 L525.27,548.74 L525.73,549.08 L526.12,549.5 L526.44,550 L526.66,550.55 L526.79,551.13 L526.8,551.73 L526.72,552.33 L526.53,552.89 L526.25,553.41 L525.88,553.86 L525.44,554.23 L524.94,554.5 L524.41,554.67 L523.85,554.72 L523.3,554.67 L522.76,554.5 L522.26,554.23 L521.83,553.86 L521.46,553.4 L521.18,552.89" fill="none" stroke="#707070" stroke-width="1.35" stroke-linecap="butt" stroke-linejoin="round"/><path d="M518.82,544.4 L518.82,555.4 L517.37,555.4 L517.37,546.94 L515.52,548.06 L515.52,546.85 L517.23,544.4 Z M520.58,544.4 L527.48,544.4 L527.48,545.75 L520.58,545.75 Z" fill="#707070"/>
<path d="M541.39,547.37 L541.49,547 L541.64,546.66 L541.83,546.33 L542.06,546.03 L542.32,545.77 L542.62,545.54 L542.95,545.36 L543.29,545.22 L543.65,545.12 L544.02,545.08 L544.39,545.08 L544.76,545.14 L545.12,545.24 L545.46,545.39 L545.78,545.58 L546.07,545.82 L546.33,546.09 L546.56,546.39 L546.74,546.72 L546.88,547.08 L546.97,547.44 L547.01,547.82 L547.01,548.2 L546.95,548.57 L546.86,549.07 L546.66,549.6 L546.35,550.15 L545.95,550.73 L545.43,551.33 L544.82,551.96 L544.1,552.61 L543.28,553.29 L542.35,553.99 L541.32,554.73 L547.69,554.73 M557.23,549.9 L557.16,550.87 L556.94,551.8 L556.6,552.66 L556.14,553.42 L555.57,554.04 L554.93,554.5 L554.23,554.78 L553.5,554.88 L552.78,554.78 L552.08,554.5 L551.43,554.04 L550.87,553.42 L550.41,552.66 L550.06,551.8 L549.85,550.87 L549.78,549.9 L549.85,548.93 L550.06,548 L550.41,547.14 L550.87,546.38 L551.43,545.76 L552.08,545.3 L552.78,545.02 L553.5,544.92 L554.23,545.02 L554.93,545.3 L555.57,545.76 L556.14,546.38 L556.6,547.14 L556.94,548 L557.16,548.93 L557.23,549.9 Z M571.27,551.83 L571.19,552.47 L570.95,553.09 L570.56,553.64 L570.04,554.09 L569.42,554.44 L568.72,554.65 L567.99,554.73 L567.26,554.65 L566.56,554.44 L565.94,554.09 L565.42,553.64 L565.03,553.09 L564.79,552.47 L564.7,551.83 L564.79,551.19 L565.03,550.57 L565.42,550.02 L565.94,549.57 L566.56,549.22 L567.26,549.01 L567.99,548.93 L568.72,549.01 L569.42,549.22 L570.04,549.57 L570.56,550.02 L570.95,550.57 L571.19,551.19 L571.27,551.83 Z M570.98,545.87 L570.54,545.54 L570.07,545.3 L569.59,545.15 L569.11,545.08 L568.62,545.1 L568.14,545.21 L567.66,545.4 L567.21,545.68 L566.78,546.04 L566.37,546.47 L566,546.98 L565.67,547.55 L565.38,548.17 L565.14,548.85 L564.95,549.56 L564.82,550.3 L564.73,551.06 L564.7,551.83" fill="none" stroke="#707070" stroke-width="1.35" stroke-linecap="butt" stroke-linejoin="round"/><path d="M562.62,544.4 L562.62,555.4 L561.16,555.4 L561.16,546.94 L559.32,548.06 L559.32,546.85 L561.02,544.4 Z" fill="#707070"/>
<path d="M585.95,547.37 L586.05,547 L586.2,546.66 L586.39,546.33 L586.62,546.03 L586.89,545.77 L587.19,545.54 L587.51,545.36 L587.86,545.22 L588.22,545.12 L588.59,545.08 L588.96,545.08 L589.33,545.14 L589.69,545.24 L590.03,545.39 L590.35,545.58 L590.64,545.82 L590.9,546.09 L591.12,546.39 L591.3,546.72 L591.44,547.08 L591.53,547.44 L591.58,547.82 L591.57,548.2 L591.52,548.57 L591.42,549.07 L591.22,549.6 L590.92,550.15 L590.51,550.73 L590,551.33 L589.39,551.96 L588.67,552.61 L587.85,553.29 L586.92,553.99 L585.89,554.73 L592.26,554.73 M601.79,549.9 L601.72,550.87 L601.5,551.8 L601.16,552.66 L600.7,553.42 L600.13,554.04 L599.49,554.5 L598.79,554.78 L598.06,554.88 L597.34,554.78 L596.64,554.5 L595.99,554.04 L595.43,553.42 L594.97,552.66 L594.62,551.8 L594.41,550.87 L594.34,549.9 L594.41,548.93 L594.62,548 L594.97,547.14 L595.43,546.38 L595.99,545.76 L596.64,545.3 L597.34,545.02 L598.06,544.92 L598.79,545.02 L599.49,545.3 L600.13,545.76 L600.7,546.38 L601.16,547.14 L601.5,548 L601.72,548.93 L601.79,549.9 Z M614.94,545.07 L610.9,555.4" fill="none" stroke="#707070" stroke-width="1.35" stroke-linecap="butt" stroke-linejoin="round"/><path d="M607.17,544.4 L607.17,555.4 L605.71,555.4 L605.71,546.94 L603.87,548.06 L603.87,546.85 L605.58,544.4 Z M608.58,544.4 L615.62,544.4 L615.62,545.75 L608.58,545.75 Z" fill="#707070"/>
<path d="M629.62,547.37 L629.72,547 L629.87,546.66 L630.06,546.33 L630.29,546.03 L630.55,545.77 L630.85,545.54 L631.18,545.36 L631.52,545.22 L631.88,545.12 L632.25,545.08 L632.62,545.08 L632.99,545.14 L633.35,545.24 L633.69,545.39 L634.01,545.58 L634.31,545.82 L634.56,546.09 L634.79,546.39 L634.97,546.72 L635.11,547.08 L635.2,547.44 L635.24,547.82 L635.24,548.2 L635.18,548.57 L635.09,549.07 L634.89,549.6 L634.58,550.15 L634.18,550.73 L633.67,551.33 L633.05,551.96 L632.33,552.61 L631.51,553.29 L630.59,553.99 L629.56,554.73 L635.92,554.73 M645.46,549.9 L645.39,550.87 L645.18,551.8 L644.83,552.66 L644.37,553.42 L643.8,554.04 L643.16,554.5 L642.46,554.78 L641.73,554.88 L641.01,554.78 L640.31,554.5 L639.67,554.04 L639.1,553.42 L638.64,552.66 L638.29,551.8 L638.08,550.87 L638.01,549.9 L638.08,548.93 L638.29,548 L638.64,547.14 L639.1,546.38 L639.67,545.76 L640.31,545.3 L641.01,545.02 L641.73,544.92 L642.46,545.02 L643.16,545.3 L643.8,545.76 L644.37,546.38 L644.83,547.14 L645.18,548 L645.39,548.93 L645.46,549.9 Z M658.92,547.39 L658.85,547.91 L658.65,548.4 L658.33,548.84 L657.9,549.2 L657.39,549.48 L656.82,549.65 L656.22,549.71 L655.62,549.65 L655.05,549.48 L654.54,549.2 L654.12,548.84 L653.79,548.4 L653.6,547.91 L653.53,547.39 L653.6,546.88 L653.79,546.39 L654.12,545.95 L654.54,545.58 L655.05,545.3 L655.62,545.13 L656.22,545.07 L656.82,545.13 L657.39,545.3 L657.9,545.58 L658.33,545.95 L658.65,546.39 L658.85,546.88 L658.92,547.39 Z M659.51,552.22 L659.42,552.77 L659.18,553.3 L658.79,553.78 L658.27,554.18 L657.65,554.48 L656.95,554.66 L656.22,554.73 L655.49,554.66 L654.8,554.48 L654.17,554.18 L653.65,553.78 L653.26,553.3 L653.02,552.77 L652.94,552.22 L653.02,551.66 L653.26,551.13 L653.65,550.65 L654.17,550.25 L654.8,549.96 L655.49,549.77 L656.22,549.71 L656.95,549.77 L657.65,549.96 L658.27,550.25 L658.79,550.65 L659.18,551.13 L659.42,551.66 L659.51,552.22 Z" fill="none" stroke="#707070" stroke-width="1.35" stroke-linecap="butt" stroke-linejoin="round"/><path d="M650.85,544.4 L650.85,555.4 L649.39,555.4 L649.39,546.94 L647.55,548.06 L647.55,546.85 L649.26,544.4 Z" fill="#707070"/>
<path d="M673.78,547.37 L673.89,547 L674.03,546.66 L674.22,546.33 L674.45,546.03 L674.72,545.77 L675.02,545.54 L675.34,545.36 L675.69,545.22 L676.05,545.12 L676.42,545.08 L676.79,545.08 L677.16,545.14 L677.52,545.24 L677.86,545.39 L678.18,545.58 L678.47,545.82 L678.73,546.09 L678.95,546.39 L679.14,546.72 L679.27,547.08 L679.36,547.44 L679.41,547.82 L679.4,548.2 L679.35,548.57 L679.25,549.07 L679.05,549.6 L678.75,550.15 L678.34,550.73 L677.83,551.33 L677.22,551.96 L676.5,552.61 L675.68,553.29 L674.75,553.99 L673.72,554.73 L680.09,554.73 M689.63,549.9 L689.56,550.87 L689.35,551.8 L689,552.66 L688.54,553.42 L687.97,554.04 L687.33,554.5 L686.63,554.78 L685.9,554.88 L685.18,554.78 L684.48,554.5 L683.83,554.04 L683.27,553.42 L682.81,552.66 L682.46,551.8 L682.25,550.87 L682.18,549.9 L682.25,548.93 L682.46,548 L682.81,547.14 L683.27,546.38 L683.83,545.76 L684.48,545.3 L685.18,545.02 L685.9,544.92 L686.63,545.02 L687.33,545.3 L687.97,545.76 L688.54,546.38 L689,547.14 L689.35,548 L689.56,548.93 L689.63,549.9 Z M703.57,547.97 L703.49,548.61 L703.25,549.23 L702.87,549.78 L702.36,550.23 L701.74,550.58 L701.06,550.79 L700.34,550.87 L699.62,550.79 L698.94,550.58 L698.33,550.23 L697.82,549.78 L697.43,549.23 L697.19,548.61 L697.11,547.97 L697.19,547.33 L697.43,546.71 L697.82,546.16 L698.33,545.71 L698.94,545.36 L699.62,545.15 L700.34,545.07 L701.06,545.15 L701.74,545.36 L702.36,545.71 L702.87,546.16 L703.25,546.71 L703.49,547.33 L703.57,547.97 Z M697.4,553.93 L697.84,554.26 L698.29,554.5 L698.76,554.65 L699.24,554.72 L699.72,554.7 L700.2,554.59 L700.66,554.4 L701.11,554.12 L701.54,553.76 L701.93,553.33 L702.3,552.82 L702.62,552.25 L702.9,551.63 L703.14,550.95 L703.33,550.24 L703.46,549.5 L703.54,548.74 L703.57,547.97" fill="none" stroke="#707070" stroke-width="1.35" stroke-linecap="butt" stroke-linejoin="round"/><path d="M695.02,544.4 L695.02,555.4 L693.56,555.4 L693.56,546.94 L691.72,548.06 L691.72,546.85 L693.43,544.4 Z" fill="#707070"/>
<path d="M715.25,547.37 L715.35,547 L715.5,546.66 L715.69,546.33 L715.92,546.03 L716.19,545.77 L716.48,545.54 L716.81,545.36 L717.15,545.22 L717.51,545.12 L717.88,545.08 L718.26,545.08 L718.62,545.14 L718.98,545.24 L719.32,545.39 L719.64,545.58 L719.94,545.82 L720.2,546.09 L720.42,546.39 L720.6,546.72 L720.74,547.08 L720.83,547.44 L720.87,547.82 L720.87,548.2 L720.82,548.57 L720.72,549.07 L720.52,549.6 L720.22,550.15 L719.81,550.73 L719.3,551.33 L718.68,551.96 L717.96,552.61 L717.14,553.29 L716.22,553.99 L715.19,554.73 L721.55,554.73 M731.28,549.9 L731.21,550.87 L731,551.8 L730.66,552.66 L730.19,553.42 L729.63,554.04 L728.99,554.5 L728.29,554.78 L727.56,554.88 L726.83,554.78 L726.13,554.5 L725.49,554.04 L724.93,553.42 L724.46,552.66 L724.12,551.8 L723.91,550.87 L723.83,549.9 L723.91,548.93 L724.12,548 L724.46,547.14 L724.93,546.38 L725.49,545.76 L726.13,545.3 L726.83,545.02 L727.56,544.92 L728.29,545.02 L728.99,545.3 L729.63,545.76 L730.19,546.38 L730.66,547.14 L731,548 L731.21,548.93 L731.28,549.9 Z M734.3,547.37 L734.4,547 L734.55,546.66 L734.74,546.33 L734.97,546.03 L735.24,545.77 L735.54,545.54 L735.86,545.36 L736.21,545.22 L736.57,545.12 L736.94,545.08 L737.31,545.08 L737.68,545.14 L738.04,545.24 L738.38,545.39 L738.7,545.58 L738.99,545.82 L739.25,546.09 L739.47,546.39 L739.65,546.72 L739.79,547.08 L739.88,547.44 L739.93,547.82 L739.92,548.2 L739.87,548.57 L739.77,549.07 L739.57,549.6 L739.27,550.15 L738.86,550.73 L738.35,551.33 L737.74,551.96 L737.02,552.61 L736.2,553.29 L735.27,553.99 L734.24,554.73 L740.61,554.73 M750.34,549.9 L750.27,550.87 L750.05,551.8 L749.71,552.66 L749.25,553.42 L748.68,554.04 L748.04,554.5 L747.34,554.78 L746.61,554.88 L745.89,554.78 L745.19,554.5 L744.54,554.04 L743.98,553.42 L743.52,552.66 L743.17,551.8 L742.96,550.87 L742.89,549.9 L742.96,548.93 L743.17,548 L743.52,547.14 L743.98,546.38 L744.54,545.76 L745.19,545.3 L745.89,545.02 L746.61,544.92 L747.34,545.02 L748.04,545.3 L748.68,545.76 L749.25,546.38 L749.71,547.14 L750.05,548 L750.27,548.93 L750.34,549.9 Z" fill="none" stroke="#707070" stroke-width="1.35" stroke-linecap="butt" stroke-linejoin="round"/>
<path d="M762.12,547.37 L762.22,547 L762.36,546.66 L762.55,546.33 L762.78,546.03 L763.05,545.77 L763.35,545.54 L763.67,545.36 L764.02,545.22 L764.38,545.12 L764.75,545.08 L765.12,545.08 L765.49,545.14 L765.85,545.24 L766.19,545.39 L766.51,545.58 L766.8,545.82 L767.06,546.09 L767.28,546.39 L767.47,546.72 L767.6,547.08 L767.7,547.44 L767.74,547.82 L767.74,548.2 L767.68,548.57 L767.59,549.07 L767.39,549.6 L767.08,550.15 L766.67,550.73 L766.16,551.33 L765.55,551.96 L764.83,552.61 L764.01,553.29 L763.08,553.99 L762.05,554.73 L768.42,554.73 M778.15,549.9 L778.08,550.87 L777.87,551.8 L777.52,552.66 L777.06,553.42 L776.5,554.04 L775.85,554.5 L775.15,554.78 L774.43,554.88 L773.7,554.78 L773,554.5 L772.36,554.04 L771.79,553.42 L771.33,552.66 L770.98,551.8 L770.77,550.87 L770.7,549.9 L770.77,548.93 L770.98,548 L771.33,547.14 L771.79,546.38 L772.36,545.76 L773,545.3 L773.7,545.02 L774.43,544.92 L775.15,545.02 L775.85,545.3 L776.5,545.76 L777.06,546.38 L777.52,547.14 L777.87,548 L778.08,548.93 L778.15,549.9 Z M781.17,547.37 L781.27,547 L781.42,546.66 L781.61,546.33 L781.84,546.03 L782.1,545.77 L782.4,545.54 L782.73,545.36 L783.07,545.22 L783.43,545.12 L783.8,545.08 L784.18,545.08 L784.54,545.14 L784.9,545.24 L785.24,545.39 L785.56,545.58 L785.86,545.82 L786.12,546.09 L786.34,546.39 L786.52,546.72 L786.66,547.08 L786.75,547.44 L786.79,547.82 L786.79,548.2 L786.74,548.57 L786.64,549.07 L786.44,549.6 L786.14,550.15 L785.73,550.73 L785.22,551.33 L784.6,551.96 L783.88,552.61 L783.06,553.29 L782.14,553.99 L781.11,554.73 L787.47,554.73" fill="none" stroke="#707070" stroke-width="1.35" stroke-linecap="butt" stroke-linejoin="round"/><path d="M792.38,544.4 L792.38,555.4 L790.92,555.4 L790.92,546.94 L789.08,548.06 L789.08,546.85 L790.79,544.4 Z" fill="#707070"/>
<path d="M804.53,547.37 L804.63,547 L804.78,546.66 L804.97,546.33 L805.2,546.03 L805.47,545.77 L805.77,545.54 L806.09,545.36 L806.44,545.22 L806.8,545.12 L807.17,545.08 L807.54,545.08 L807.91,545.14 L808.26,545.24 L808.61,545.39 L808.93,545.58 L809.22,545.82 L809.48,546.09 L809.7,546.39 L809.88,546.72 L810.02,547.08 L810.11,547.44 L810.16,547.82 L810.15,548.2 L810.1,548.57 L810,549.07 L809.8,549.6 L809.5,550.15 L809.09,550.73 L808.58,551.33 L807.96,551.96 L807.25,552.61 L806.42,553.29 L805.5,553.99 L804.47,554.73 L810.83,554.73 M820.45,549.9 L820.38,550.87 L820.17,551.8 L819.83,552.66 L819.36,553.42 L818.8,554.04 L818.15,554.5 L817.45,554.78 L816.73,554.88 L816,554.78 L815.3,554.5 L814.66,554.04 L814.09,553.42 L813.63,552.66 L813.29,551.8 L813.07,550.87 L813,549.9 L813.07,548.93 L813.29,548 L813.63,547.14 L814.09,546.38 L814.66,545.76 L815.3,545.3 L816,545.02 L816.73,544.92 L817.45,545.02 L818.15,545.3 L818.8,545.76 L819.36,546.38 L819.83,547.14 L820.17,548 L820.38,548.93 L820.45,549.9 Z M823.36,547.37 L823.46,547 L823.61,546.66 L823.8,546.33 L824.03,546.03 L824.29,545.77 L824.59,545.54 L824.92,545.36 L825.26,545.22 L825.62,545.12 L825.99,545.08 L826.36,545.08 L826.73,545.14 L827.09,545.24 L827.43,545.39 L827.75,545.58 L828.05,545.82 L828.3,546.09 L828.53,546.39 L828.71,546.72 L828.85,547.08 L828.94,547.44 L828.98,547.82 L828.98,548.2 L828.92,548.57 L828.83,549.07 L828.63,549.6 L828.32,550.15 L827.92,550.73 L827.41,551.33 L826.79,551.96 L826.07,552.61 L825.25,553.29 L824.33,553.99 L823.3,554.73 L829.66,554.73 M831.89,547.37 L831.99,547 L832.14,546.66 L832.33,546.33 L832.56,546.03 L832.83,545.77 L833.13,545.54 L833.45,545.36 L833.8,545.22 L834.16,545.12 L834.53,545.08 L834.9,545.08 L835.27,545.14 L835.62,545.24 L835.97,545.39 L836.29,545.58 L836.58,545.82 L836.84,546.09 L837.06,546.39 L837.24,546.72 L837.38,547.08 L837.47,547.44 L837.52,547.82 L837.51,548.2 L837.46,548.57 L837.36,549.07 L837.16,549.6 L836.86,550.15 L836.45,550.73 L835.94,551.33 L835.32,551.96 L834.61,552.61 L833.78,553.29 L832.86,553.99 L831.83,554.73 L838.19,554.73" fill="none" stroke="#707070" stroke-width="1.35" stroke-linecap="butt" stroke-linejoin="round"/>
<path d="M848.65,547.37 L848.75,547 L848.9,546.66 L849.09,546.33 L849.32,546.03 L849.58,545.77 L849.88,545.54 L850.21,545.36 L850.55,545.22 L850.91,545.12 L851.28,545.08 L851.65,545.08 L852.02,545.14 L852.38,545.24 L852.72,545.39 L853.04,545.58 L853.33,545.82 L853.59,546.09 L853.82,546.39 L854,546.72 L854.14,547.08 L854.23,547.44 L854.27,547.82 L854.27,548.2 L854.21,548.57 L854.12,549.07 L853.92,549.6 L853.61,550.15 L853.21,550.73 L852.7,551.33 L852.08,551.96 L851.36,552.61 L850.54,553.29 L849.61,553.99 L848.59,554.73 L854.95,554.73 M864.53,549.9 L864.46,550.87 L864.25,551.8 L863.9,552.66 L863.44,553.42 L862.88,554.04 L862.23,554.5 L861.53,554.78 L860.81,554.88 L860.08,554.78 L859.38,554.5 L858.74,554.04 L858.17,553.42 L857.71,552.66 L857.37,551.8 L857.15,550.87 L857.08,549.9 L857.15,548.93 L857.37,548 L857.71,547.14 L858.17,546.38 L858.74,545.76 L859.38,545.3 L860.08,545.02 L860.81,544.92 L861.53,545.02 L862.23,545.3 L862.88,545.76 L863.44,546.38 L863.9,547.14 L864.25,548 L864.46,548.93 L864.53,549.9 Z M867.4,547.37 L867.5,547 L867.65,546.66 L867.84,546.33 L868.07,546.03 L868.34,545.77 L868.63,545.54 L868.96,545.36 L869.3,545.22 L869.67,545.12 L870.03,545.08 L870.41,545.08 L870.78,545.14 L871.13,545.24 L871.48,545.39 L871.8,545.58 L872.09,545.82 L872.35,546.09 L872.57,546.39 L872.75,546.72 L872.89,547.08 L872.98,547.44 L873.02,547.82 L873.02,548.2 L872.97,548.57 L872.87,549.07 L872.67,549.6 L872.37,550.15 L871.96,550.73 L871.45,551.33 L870.83,551.96 L870.12,552.61 L869.29,553.29 L868.37,553.99 L867.34,554.73 L873.7,554.73 M876.22,546.57 L876.39,546.22 L876.63,545.91 L876.92,545.64 L877.26,545.41 L877.63,545.24 L878.03,545.13 L878.44,545.08 L878.86,545.09 L879.27,545.17 L879.66,545.31 L880.02,545.5 L880.34,545.75 L880.6,546.04 L880.81,546.37 L880.96,546.73 L881.04,547.1 L881.05,547.48 L880.99,547.86 L880.86,548.22 L880.67,548.55 L880.42,548.86 L880.11,549.12 L879.76,549.33 L879.38,549.48 L878.98,549.58 L878.56,549.61 L878.74,549.61 L878.74,549.61 L879.22,549.65 L879.69,549.75 L880.13,549.93 L880.54,550.17 L880.89,550.46 L881.19,550.8 L881.41,551.18 L881.56,551.59 L881.63,552.01 L881.62,552.44 L881.53,552.86 L881.36,553.26 L881.11,553.63 L880.8,553.96 L880.43,554.24 L880.01,554.46 L879.56,554.62 L879.09,554.71 L878.6,554.72 L878.12,554.67 L877.65,554.54 L877.22,554.35 L876.83,554.09 L876.49,553.79 L876.21,553.43 L876.01,553.04" fill="none" stroke="#707070" stroke-width="1.35" stroke-linecap="butt" stroke-linejoin="round"/>
<path d="M892.46,547.37 L892.56,547 L892.71,546.66 L892.9,546.33 L893.13,546.03 L893.4,545.77 L893.7,545.54 L894.02,545.36 L894.37,545.22 L894.73,545.12 L895.1,545.08 L895.47,545.08 L895.84,545.14 L896.2,545.24 L896.54,545.39 L896.86,545.58 L897.15,545.82 L897.41,546.09 L897.63,546.39 L897.81,546.72 L897.95,547.08 L898.04,547.44 L898.09,547.82 L898.08,548.2 L898.03,548.57 L897.93,549.07 L897.73,549.6 L897.43,550.15 L897.02,550.73 L896.51,551.33 L895.9,551.96 L895.18,552.61 L894.36,553.29 L893.43,553.99 L892.4,554.73 L898.77,554.73 M908.29,549.9 L908.22,550.87 L908.01,551.8 L907.66,552.66 L907.2,553.42 L906.64,554.04 L905.99,554.5 L905.29,554.78 L904.57,554.88 L903.84,554.78 L903.14,554.5 L902.5,554.04 L901.93,553.42 L901.47,552.66 L901.12,551.8 L900.91,550.87 L900.84,549.9 L900.91,548.93 L901.12,548 L901.47,547.14 L901.93,546.38 L902.5,545.76 L903.14,545.3 L903.84,545.02 L904.57,544.92 L905.29,545.02 L905.99,545.3 L906.64,545.76 L907.2,546.38 L907.66,547.14 L908.01,548 L908.22,548.93 L908.29,549.9 Z M911.1,547.37 L911.2,547 L911.35,546.66 L911.54,546.33 L911.77,546.03 L912.04,545.77 L912.34,545.54 L912.66,545.36 L913.01,545.22 L913.37,545.12 L913.74,545.08 L914.11,545.08 L914.48,545.14 L914.84,545.24 L915.18,545.39 L915.5,545.58 L915.79,545.82 L916.05,546.09 L916.27,546.39 L916.45,546.72 L916.59,547.08 L916.68,547.44 L916.73,547.82 L916.72,548.2 L916.67,548.57 L916.57,549.07 L916.37,549.6 L916.07,550.15 L915.66,550.73 L915.15,551.33 L914.54,551.96 L913.82,552.61 L913,553.29 L912.07,553.99 L911.04,554.73 L917.41,554.73 M924.15,545.01 L919.41,552.26" fill="none" stroke="#707070" stroke-width="1.35" stroke-linecap="butt" stroke-linejoin="round"/><path d="M923.72,544.4 L925.14,544.4 L925.14,555.4 L923.72,555.4 Z M918.81,551.59 L926.73,551.59 L926.73,552.94 L918.81,552.94 Z" fill="#707070"/>
<path d="M936.68,547.37 L936.78,547 L936.93,546.66 L937.12,546.33 L937.35,546.03 L937.61,545.77 L937.91,545.54 L938.24,545.36 L938.58,545.22 L938.94,545.12 L939.31,545.08 L939.69,545.08 L940.05,545.14 L940.41,545.24 L940.75,545.39 L941.07,545.58 L941.37,545.82 L941.63,546.09 L941.85,546.39 L942.03,546.72 L942.17,547.08 L942.26,547.44 L942.3,547.82 L942.3,548.2 L942.24,548.57 L942.15,549.07 L941.95,549.6 L941.65,550.15 L941.24,550.73 L940.73,551.33 L940.11,551.96 L939.39,552.61 L938.57,553.29 L937.65,553.99 L936.62,554.73 L942.98,554.73 M952.66,549.9 L952.59,550.87 L952.38,551.8 L952.03,552.66 L951.57,553.42 L951,554.04 L950.36,554.5 L949.66,554.78 L948.94,554.88 L948.21,554.78 L947.51,554.5 L946.87,554.04 L946.3,553.42 L945.84,552.66 L945.49,551.8 L945.28,550.87 L945.21,549.9 L945.28,548.93 L945.49,548 L945.84,547.14 L946.3,546.38 L946.87,545.76 L947.51,545.3 L948.21,545.02 L948.94,544.92 L949.66,545.02 L950.36,545.3 L951,545.76 L951.57,546.38 L952.03,547.14 L952.38,548 L952.59,548.93 L952.66,549.9 Z M955.63,547.37 L955.73,547 L955.87,546.66 L956.06,546.33 L956.29,546.03 L956.56,545.77 L956.86,545.54 L957.18,545.36 L957.53,545.22 L957.89,545.12 L958.26,545.08 L958.63,545.08 L959,545.14 L959.36,545.24 L959.7,545.39 L960.02,545.58 L960.31,545.82 L960.57,546.09 L960.79,546.39 L960.98,546.72 L961.11,547.08 L961.21,547.44 L961.25,547.82 L961.25,548.2 L961.19,548.57 L961.1,549.07 L960.9,549.6 L960.59,550.15 L960.18,550.73 L959.67,551.33 L959.06,551.96 L958.34,552.61 L957.52,553.29 L956.59,553.99 L955.56,554.73 L961.93,554.73 M964.51,545.48 L964.51,549.57 L964.94,549.38 L965.36,548.98 L965.84,548.67 L966.36,548.46 L966.91,548.36 L967.47,548.38 L968.01,548.51 L968.53,548.74 L968.99,549.08 L969.38,549.5 L969.7,550 L969.92,550.55 L970.04,551.13 L970.06,551.73 L969.98,552.33 L969.79,552.89 L969.5,553.41 L969.14,553.86 L968.7,554.23 L968.2,554.5 L967.66,554.67 L967.11,554.72 L966.55,554.67 L966.02,554.5 L965.52,554.23 L965.08,553.86 L964.72,553.4 L964.43,552.89" fill="none" stroke="#707070" stroke-width="1.35" stroke-linecap="butt" stroke-linejoin="round"/><path d="M963.84,544.4 L970.74,544.4 L970.74,545.75 L963.84,545.75 Z" fill="#707070"/>
<rect x="138.91" y="156.33" width="40.30" height="30.70" fill="#fff"/>
<path d="M146.63,169.72 L146.75,169.32 L146.92,168.93 L147.14,168.57 L147.41,168.24 L147.73,167.95 L148.08,167.7 L148.46,167.49 L148.86,167.34 L149.29,167.24 L149.72,167.19 L150.15,167.19 L150.59,167.25 L151.01,167.37 L151.41,167.53 L151.78,167.75 L152.12,168.01 L152.43,168.31 L152.69,168.64 L152.9,169.01 L153.06,169.4 L153.17,169.81 L153.22,170.22 L153.22,170.64 L153.16,171.06 L153.04,171.61 L152.81,172.2 L152.45,172.81 L151.97,173.45 L151.38,174.12 L150.65,174.81 L149.81,175.54 L148.85,176.29 L147.76,177.07 L146.56,177.88 L154.38,177.88 M164.9,174.67 L164.8,175.39 L164.53,176.06 L164.09,176.67 L163.51,177.18 L162.81,177.56 L162.02,177.8 L161.2,177.88 L160.38,177.8 L159.6,177.56 L158.9,177.18 L158.32,176.67 L157.88,176.06 L157.6,175.39 L157.51,174.67 L157.6,173.96 L157.88,173.28 L158.32,172.67 L158.9,172.16 L159.6,171.78 L160.38,171.54 L161.2,171.46 L162.02,171.54 L162.81,171.78 L163.51,172.16 L164.09,172.67 L164.53,173.28 L164.8,173.96 L164.9,174.67 Z M164.56,168.06 L164.07,167.7 L163.54,167.43 L163.01,167.26 L162.46,167.19 L161.91,167.21 L161.37,167.33 L160.84,167.54 L160.32,167.85 L159.84,168.25 L159.38,168.73 L158.97,169.29 L158.6,169.92 L158.27,170.62 L158,171.36 L157.79,172.15 L157.64,172.97 L157.54,173.82 L157.51,174.67" fill="none" stroke="#111111" stroke-width="2.3" stroke-linecap="butt" stroke-linejoin="round"/><path d="M172.71,166.03 L172.71,179.03 L170.22,179.03 L170.22,169.21 L168.03,170.61 L168.03,168.54 L169.99,166.03 Z" fill="#111111"/>
<rect x="182.12" y="242.94" width="42.10" height="30.70" fill="#fff"/>
<path d="M203.94,257 L203.85,257.71 L203.57,258.39 L203.13,259 L202.54,259.51 L201.83,259.89 L201.05,260.13 L200.22,260.21 L199.39,260.13 L198.6,259.89 L197.89,259.51 L197.3,259 L196.86,258.39 L196.58,257.71 L196.49,257 L196.58,256.28 L196.86,255.6 L197.3,254.99 L197.89,254.49 L198.6,254.1 L199.39,253.87 L200.22,253.79 L201.05,253.87 L201.83,254.1 L202.54,254.49 L203.13,254.99 L203.57,255.6 L203.85,256.28 L203.94,257 Z M196.83,263.61 L197.33,263.97 L197.85,264.23 L198.4,264.41 L198.95,264.48 L199.5,264.46 L200.05,264.34 L200.59,264.12 L201.1,263.81 L201.59,263.42 L202.05,262.93 L202.47,262.37 L202.84,261.74 L203.17,261.05 L203.44,260.31 L203.66,259.52 L203.81,258.69 L203.91,257.85 L203.94,257 M214.17,253.67 L208.16,261.93" fill="none" stroke="#111111" stroke-width="2.3" stroke-linecap="butt" stroke-linejoin="round"/><path d="M193.3,252.64 L193.3,265.64 L190.82,265.64 L190.82,255.81 L188.62,257.21 L188.62,255.14 L190.59,252.64 Z M213.44,252.64 L215.86,252.64 L215.86,265.64 L213.44,265.64 Z M207.13,260.78 L217.72,260.78 L217.72,263.08 L207.13,263.08 Z" fill="#111111"/>
<rect x="226.09" y="294.64" width="42.40" height="30.70" fill="#fff"/>
<path d="M241.45,306.18 L241.45,310.47 L241.93,310.26 L242.39,309.81 L242.92,309.47 L243.5,309.24 L244.11,309.14 L244.73,309.15 L245.33,309.3 L245.9,309.56 L246.41,309.93 L246.84,310.4 L247.19,310.95 L247.44,311.56 L247.58,312.21 L247.6,312.87 L247.5,313.53 L247.29,314.16 L246.98,314.73 L246.57,315.23 L246.08,315.64 L245.53,315.94 L244.94,316.13 L244.33,316.19 L243.71,316.13 L243.12,315.94 L242.57,315.64 L242.09,315.23 L241.68,314.73 L241.37,314.15 M258.43,305.37 L252.43,313.63" fill="none" stroke="#111111" stroke-width="2.3" stroke-linecap="butt" stroke-linejoin="round"/><path d="M237.27,304.34 L237.27,317.34 L234.79,317.34 L234.79,307.51 L232.59,308.91 L232.59,306.84 L234.56,304.34 Z M240.3,304.34 L248.75,304.34 L248.75,306.64 L240.3,306.64 Z M257.71,304.34 L260.12,304.34 L260.12,317.34 L257.71,317.34 Z M251.39,312.48 L261.99,312.48 L261.99,314.78 L251.39,314.78 Z" fill="#111111"/>
<rect x="271.16" y="333.42" width="40.50" height="30.70" fill="#fff"/>
<path d="M285.19,346.81 L285.3,346.41 L285.48,346.02 L285.7,345.66 L285.97,345.33 L286.28,345.04 L286.63,344.79 L287.01,344.58 L287.42,344.42 L287.84,344.32 L288.27,344.27 L288.71,344.28 L289.14,344.34 L289.56,344.45 L289.96,344.62 L290.34,344.83 L290.68,345.09 L290.98,345.39 L291.24,345.73 L291.46,346.1 L291.62,346.49 L291.73,346.89 L291.78,347.31 L291.77,347.73 L291.71,348.14 L291.6,348.7 L291.36,349.28 L291.01,349.89 L290.53,350.53 L289.93,351.2 L289.21,351.9 L288.37,352.62 L287.4,353.38 L286.32,354.16 L285.11,354.97 L292.93,354.97 M301.6,344.15 L295.6,352.41" fill="none" stroke="#111111" stroke-width="2.3" stroke-linecap="butt" stroke-linejoin="round"/><path d="M282.34,343.12 L282.34,356.12 L279.85,356.12 L279.85,346.29 L277.66,347.69 L277.66,345.62 L279.62,343.12 Z M300.88,343.12 L303.29,343.12 L303.29,356.12 L300.88,356.12 Z M294.56,351.26 L305.16,351.26 L305.16,353.56 L294.56,353.56 Z" fill="#111111"/>
<rect x="315.97" y="329.54" width="39.10" height="30.70" fill="#fff"/>
<path d="M330.11,342.93 L330.23,342.53 L330.4,342.14 L330.63,341.78 L330.9,341.45 L331.21,341.16 L331.56,340.91 L331.94,340.7 L332.35,340.55 L332.77,340.44 L333.2,340.39 L333.64,340.4 L334.07,340.46 L334.49,340.57 L334.89,340.74 L335.27,340.95 L335.61,341.21 L335.91,341.52 L336.17,341.85 L336.39,342.22 L336.55,342.61 L336.66,343.01 L336.71,343.43 L336.7,343.85 L336.64,344.27 L336.53,344.82 L336.29,345.41 L335.93,346.02 L335.46,346.66 L334.86,347.32 L334.14,348.02 L333.3,348.75 L332.33,349.5 L331.25,350.28 L330.04,351.09 L337.86,351.09 M347.42,340.39 L342.56,352.24" fill="none" stroke="#111111" stroke-width="2.3" stroke-linecap="butt" stroke-linejoin="round"/><path d="M327.15,339.24 L327.15,352.24 L324.67,352.24 L324.67,342.41 L322.47,343.81 L322.47,341.74 L324.44,339.24 Z M339.6,339.24 L348.57,339.24 L348.57,341.54 L339.6,341.54 Z" fill="#111111"/>
<rect x="361.59" y="341.17" width="36.10" height="30.70" fill="#fff"/>
<path d="M389.37,354.59 L389.3,355.16 L389.07,355.71 L388.71,356.19 L388.23,356.6 L387.66,356.9 L387.02,357.09 L386.34,357.16 L385.67,357.09 L385.03,356.9 L384.46,356.6 L383.98,356.19 L383.62,355.71 L383.39,355.16 L383.32,354.59 L383.39,354.02 L383.62,353.48 L383.98,352.99 L384.46,352.58 L385.03,352.28 L385.67,352.09 L386.34,352.02 L387.02,352.09 L387.66,352.28 L388.23,352.58 L388.71,352.99 L389.07,353.48 L389.3,354.02 L389.37,354.59 Z M390.04,359.94 L389.94,360.56 L389.67,361.15 L389.23,361.68 L388.65,362.12 L387.95,362.45 L387.17,362.65 L386.34,362.72 L385.52,362.65 L384.74,362.45 L384.04,362.12 L383.46,361.68 L383.02,361.15 L382.74,360.56 L382.65,359.94 L382.74,359.32 L383.02,358.73 L383.46,358.21 L384.04,357.77 L384.74,357.43 L385.52,357.23 L386.34,357.16 L387.17,357.23 L387.95,357.43 L388.65,357.77 L389.23,358.21 L389.67,358.73 L389.94,359.32 L390.04,359.94 Z" fill="none" stroke="#111111" stroke-width="2.3" stroke-linecap="butt" stroke-linejoin="round"/><path d="M372.77,350.87 L372.77,363.87 L370.28,363.87 L370.28,354.05 L368.09,355.45 L368.09,353.38 L370.05,350.87 Z M379.47,350.87 L379.47,363.87 L376.99,363.87 L376.99,354.05 L374.79,355.45 L374.79,353.38 L376.76,350.87 Z" fill="#111111"/>
<rect x="402.10" y="356.68" width="43.30" height="30.70" fill="#fff"/>
<path d="M425.85,372.88 L425.76,373.96 L425.5,374.99 L425.08,375.94 L424.5,376.77 L423.81,377.46 L423.01,377.97 L422.15,378.28 L421.25,378.38 L420.35,378.28 L419.49,377.97 L418.69,377.46 L418,376.77 L417.42,375.94 L417,374.99 L416.74,373.96 L416.65,372.88 L416.74,371.81 L417,370.78 L417.42,369.83 L418,369 L418.69,368.31 L419.49,367.8 L420.35,367.49 L421.25,367.38 L422.15,367.49 L423.01,367.8 L423.81,368.31 L424.5,369 L425.08,369.83 L425.5,370.78 L425.76,371.81 L425.85,372.88 Z M437.75,375.02 L437.66,375.74 L437.39,376.42 L436.95,377.03 L436.36,377.53 L435.66,377.92 L434.88,378.15 L434.06,378.23 L433.24,378.15 L432.46,377.92 L431.76,377.53 L431.17,377.03 L430.73,376.42 L430.46,375.74 L430.37,375.02 L430.46,374.31 L430.73,373.63 L431.17,373.02 L431.76,372.51 L432.46,372.13 L433.24,371.89 L434.06,371.81 L434.88,371.89 L435.66,372.13 L436.36,372.51 L436.95,373.02 L437.39,373.63 L437.66,374.31 L437.75,375.02 Z M437.42,368.41 L436.92,368.05 L436.4,367.79 L435.86,367.61 L435.32,367.54 L434.77,367.56 L434.22,367.68 L433.69,367.9 L433.18,368.21 L432.7,368.6 L432.24,369.09 L431.83,369.65 L431.46,370.28 L431.13,370.97 L430.86,371.71 L430.65,372.5 L430.49,373.33 L430.4,374.17 L430.37,375.02" fill="none" stroke="#111111" stroke-width="2.3" stroke-linecap="butt" stroke-linejoin="round"/><path d="M413.28,366.38 L413.28,379.38 L410.8,379.38 L410.8,369.56 L408.6,370.96 L408.6,368.89 L410.57,366.38 Z" fill="#111111"/>
<rect x="450.42" y="369.61" width="34.90" height="30.70" fill="#fff"/>
<path d="M465.52,383.67 L465.43,384.38 L465.15,385.06 L464.71,385.67 L464.12,386.18 L463.41,386.56 L462.62,386.8 L461.79,386.88 L460.96,386.8 L460.18,386.56 L459.47,386.18 L458.88,385.67 L458.44,385.06 L458.16,384.38 L458.07,383.67 L458.16,382.96 L458.44,382.28 L458.88,381.67 L459.47,381.16 L460.18,380.78 L460.96,380.54 L461.79,380.46 L462.62,380.54 L463.41,380.78 L464.12,381.16 L464.71,381.67 L465.15,382.28 L465.43,382.96 L465.52,383.67 Z M458.4,390.28 L458.91,390.64 L459.43,390.91 L459.97,391.08 L460.53,391.16 L461.08,391.13 L461.63,391.01 L462.16,390.8 L462.68,390.49 L463.17,390.09 L463.63,389.61 L464.05,389.05 L464.42,388.42 L464.75,387.73 L465.02,386.98 L465.24,386.19 L465.39,385.37 L465.49,384.53 L465.52,383.67 M477.67,387.95 L477.58,388.66 L477.3,389.34 L476.86,389.95 L476.28,390.46 L475.58,390.84 L474.8,391.08 L473.98,391.16 L473.15,391.08 L472.37,390.84 L471.67,390.46 L471.09,389.95 L470.65,389.34 L470.38,388.66 L470.28,387.95 L470.38,387.24 L470.65,386.56 L471.09,385.95 L471.67,385.44 L472.37,385.06 L473.15,384.82 L473.98,384.74 L474.8,384.82 L475.58,385.06 L476.28,385.44 L476.86,385.95 L477.3,386.56 L477.58,387.24 L477.67,387.95 Z M477.34,381.34 L476.84,380.98 L476.32,380.71 L475.78,380.54 L475.23,380.46 L474.68,380.49 L474.14,380.61 L473.61,380.82 L473.1,381.13 L472.61,381.53 L472.16,382.01 L471.74,382.57 L471.37,383.2 L471.05,383.9 L470.78,384.64 L470.56,385.43 L470.41,386.25 L470.31,387.1 L470.28,387.95" fill="none" stroke="#111111" stroke-width="2.3" stroke-linecap="butt" stroke-linejoin="round"/>
<rect x="496.23" y="350.22" width="31.50" height="30.70" fill="#fff"/>
<path d="M507.41,359.92 L507.41,372.92 L504.93,372.92 L504.93,363.1 L502.73,364.5 L502.73,362.43 L504.7,359.92 Z M514.32,359.92 L514.32,372.92 L511.84,372.92 L511.84,363.1 L509.64,364.5 L509.64,362.43 L511.61,359.92 Z M521.23,359.92 L521.23,372.92 L518.75,372.92 L518.75,363.1 L516.55,364.5 L516.55,362.43 L518.52,359.92 Z" fill="#111111"/>
<rect x="539.35" y="342.47" width="33.50" height="30.70" fill="#fff"/>
<path d="M565.2,353.32 L560.34,365.17" fill="none" stroke="#111111" stroke-width="2.3" stroke-linecap="butt" stroke-linejoin="round"/><path d="M550.53,352.17 L550.53,365.17 L548.05,365.17 L548.05,355.34 L545.85,356.74 L545.85,354.67 L547.82,352.17 Z M556.29,352.17 L556.29,365.17 L553.81,365.17 L553.81,355.34 L551.61,356.74 L551.61,354.67 L553.58,352.17 Z M557.38,352.17 L566.35,352.17 L566.35,354.47 L557.38,354.47 Z" fill="#111111"/>
<rect x="582.92" y="372.20" width="34.60" height="30.70" fill="#fff"/>
<path d="M598.02,386.26 L597.92,386.97 L597.65,387.65 L597.2,388.26 L596.61,388.77 L595.91,389.15 L595.12,389.39 L594.29,389.47 L593.46,389.39 L592.67,389.15 L591.97,388.77 L591.38,388.26 L590.93,387.65 L590.66,386.97 L590.57,386.26 L590.66,385.54 L590.93,384.86 L591.38,384.25 L591.97,383.75 L592.67,383.36 L593.46,383.13 L594.29,383.05 L595.12,383.13 L595.91,383.36 L596.61,383.75 L597.2,384.25 L597.65,384.86 L597.92,385.54 L598.02,386.26 Z M590.9,392.87 L591.4,393.23 L591.93,393.49 L592.47,393.67 L593.02,393.74 L593.58,393.72 L594.12,393.6 L594.66,393.38 L595.18,393.07 L595.67,392.68 L596.12,392.19 L596.54,391.63 L596.92,391 L597.24,390.31 L597.52,389.57 L597.73,388.78 L597.89,387.95 L597.98,387.11 L598.02,386.26 M607.46,382.93 L601.46,391.19" fill="none" stroke="#111111" stroke-width="2.3" stroke-linecap="butt" stroke-linejoin="round"/><path d="M606.74,381.9 L609.15,381.9 L609.15,394.9 L606.74,394.9 Z M600.42,390.04 L611.02,390.04 L611.02,392.34 L600.42,392.34 Z" fill="#111111"/>
<rect x="627.53" y="386.41" width="33.60" height="30.70" fill="#fff"/>
<path d="M641.9,399.83 L641.83,400.4 L641.6,400.95 L641.24,401.43 L640.76,401.84 L640.19,402.15 L639.55,402.34 L638.87,402.4 L638.2,402.34 L637.56,402.15 L636.99,401.84 L636.51,401.43 L636.15,400.95 L635.92,400.4 L635.85,399.83 L635.92,399.26 L636.15,398.72 L636.51,398.23 L636.99,397.82 L637.56,397.52 L638.2,397.33 L638.87,397.26 L639.55,397.33 L640.19,397.52 L640.76,397.82 L641.24,398.23 L641.6,398.72 L641.83,399.26 L641.9,399.83 Z M642.57,405.18 L642.47,405.8 L642.2,406.39 L641.76,406.92 L641.18,407.36 L640.48,407.69 L639.7,407.89 L638.87,407.96 L638.05,407.89 L637.27,407.69 L636.57,407.36 L635.99,406.92 L635.55,406.39 L635.27,405.8 L635.18,405.18 L635.27,404.56 L635.55,403.98 L635.99,403.45 L636.57,403.01 L637.27,402.68 L638.05,402.47 L638.87,402.4 L639.7,402.47 L640.48,402.68 L641.18,403.01 L641.76,403.45 L642.2,403.98 L642.47,404.56 L642.57,405.18 Z M647.13,398.92 L647.34,398.54 L647.61,398.19 L647.95,397.89 L648.35,397.64 L648.79,397.45 L649.25,397.32 L649.74,397.27 L650.23,397.28 L650.71,397.37 L651.17,397.52 L651.59,397.74 L651.96,398.01 L652.27,398.34 L652.52,398.7 L652.69,399.1 L652.78,399.51 L652.8,399.93 L652.73,400.35 L652.58,400.75 L652.35,401.12 L652.05,401.46 L651.7,401.75 L651.29,401.98 L650.84,402.15 L650.37,402.26 L649.88,402.29 L650.08,402.29 L650.08,402.29 L650.65,402.33 L651.2,402.45 L651.72,402.65 L652.2,402.91 L652.61,403.23 L652.96,403.61 L653.22,404.03 L653.39,404.49 L653.48,404.96 L653.46,405.43 L653.35,405.9 L653.15,406.34 L652.87,406.76 L652.5,407.12 L652.07,407.43 L651.58,407.67 L651.05,407.85 L650.49,407.94 L649.92,407.96 L649.36,407.9 L648.81,407.76 L648.3,407.55 L647.84,407.26 L647.45,406.92 L647.13,406.53 L646.89,406.1" fill="none" stroke="#111111" stroke-width="2.3" stroke-linecap="butt" stroke-linejoin="round"/>
<rect x="670.30" y="377.37" width="36.30" height="30.70" fill="#fff"/>
<path d="M685.4,391.43 L685.3,392.14 L685.03,392.82 L684.58,393.43 L683.99,393.94 L683.29,394.32 L682.5,394.56 L681.67,394.64 L680.84,394.56 L680.06,394.32 L679.35,393.94 L678.76,393.43 L678.32,392.82 L678.04,392.14 L677.95,391.43 L678.04,390.71 L678.32,390.03 L678.76,389.42 L679.35,388.92 L680.06,388.53 L680.84,388.3 L681.67,388.22 L682.5,388.3 L683.29,388.53 L683.99,388.92 L684.58,389.42 L685.03,390.03 L685.3,390.71 L685.4,391.43 Z M678.28,398.04 L678.78,398.4 L679.31,398.66 L679.85,398.84 L680.4,398.91 L680.96,398.89 L681.51,398.77 L682.04,398.55 L682.56,398.24 L683.05,397.85 L683.51,397.36 L683.93,396.8 L684.3,396.17 L684.63,395.48 L684.9,394.74 L685.11,393.95 L685.27,393.13 L685.37,392.28 L685.4,391.43 M698.95,393.57 L698.86,394.64 L698.6,395.67 L698.17,396.62 L697.6,397.46 L696.9,398.14 L696.11,398.65 L695.24,398.96 L694.34,399.07 L693.45,398.96 L692.58,398.65 L691.79,398.14 L691.09,397.46 L690.52,396.62 L690.09,395.67 L689.83,394.64 L689.74,393.57 L689.83,392.49 L690.09,391.46 L690.52,390.51 L691.09,389.68 L691.79,388.99 L692.58,388.48 L693.45,388.17 L694.34,388.07 L695.24,388.17 L696.11,388.48 L696.9,388.99 L697.6,389.68 L698.17,390.51 L698.6,391.46 L698.86,392.49 L698.95,393.57 Z" fill="none" stroke="#111111" stroke-width="2.3" stroke-linecap="butt" stroke-linejoin="round"/>
<rect x="715.46" y="391.58" width="34.20" height="30.70" fill="#fff"/>
<path d="M729.78,402.43 L724.92,414.28 M742.01,405.64 L741.92,406.36 L741.64,407.04 L741.2,407.65 L740.61,408.15 L739.9,408.54 L739.12,408.77 L738.29,408.85 L737.46,408.77 L736.67,408.54 L735.97,408.15 L735.38,407.65 L734.93,407.04 L734.66,406.36 L734.56,405.64 L734.66,404.93 L734.93,404.25 L735.38,403.64 L735.97,403.13 L736.67,402.75 L737.46,402.52 L738.29,402.43 L739.12,402.52 L739.9,402.75 L740.61,403.13 L741.2,403.64 L741.64,404.25 L741.92,404.93 L742.01,405.64 Z M734.9,412.26 L735.4,412.62 L735.93,412.88 L736.47,413.06 L737.02,413.13 L737.57,413.11 L738.12,412.99 L738.66,412.77 L739.17,412.46 L739.66,412.06 L740.12,411.58 L740.54,411.02 L740.92,410.39 L741.24,409.7 L741.51,408.95 L741.73,408.17 L741.89,407.34 L741.98,406.5 L742.01,405.64" fill="none" stroke="#111111" stroke-width="2.3" stroke-linecap="butt" stroke-linejoin="round"/><path d="M721.96,401.28 L730.93,401.28 L730.93,403.58 L721.96,403.58 Z" fill="#111111"/>
<rect x="755.18" y="357.98" width="43.00" height="30.70" fill="#fff"/>
<path d="M779.2,374.18 L779.11,375.25 L778.85,376.28 L778.43,377.23 L777.85,378.07 L777.16,378.75 L776.36,379.26 L775.5,379.57 L774.6,379.68 L773.7,379.57 L772.84,379.26 L772.04,378.75 L771.34,378.07 L770.77,377.23 L770.35,376.28 L770.08,375.25 L770,374.18 L770.08,373.1 L770.35,372.07 L770.77,371.12 L771.34,370.29 L772.04,369.6 L772.84,369.1 L773.7,368.78 L774.6,368.68 L775.5,368.78 L776.36,369.1 L777.16,369.6 L777.85,370.29 L778.43,371.12 L778.85,372.07 L779.11,373.1 L779.2,374.18 Z M784.38,369.52 L784.38,373.81 L784.86,373.6 L785.32,373.15 L785.85,372.81 L786.43,372.58 L787.04,372.47 L787.65,372.49 L788.26,372.63 L788.82,372.89 L789.33,373.27 L789.77,373.74 L790.12,374.29 L790.37,374.9 L790.5,375.55 L790.52,376.21 L790.43,376.87 L790.22,377.5 L789.91,378.07 L789.5,378.57 L789.01,378.98 L788.46,379.28 L787.87,379.47 L787.25,379.53 L786.64,379.46 L786.05,379.28 L785.5,378.97 L785.01,378.56 L784.61,378.06 L784.3,377.49" fill="none" stroke="#111111" stroke-width="2.3" stroke-linecap="butt" stroke-linejoin="round"/><path d="M766.36,367.68 L766.36,380.68 L763.87,380.68 L763.87,370.85 L761.68,372.25 L761.68,370.18 L763.64,367.68 Z M783.23,367.68 L791.68,367.68 L791.68,369.98 L783.23,369.98 Z" fill="#111111"/>
<rect x="802.54" y="390.29" width="36.50" height="30.70" fill="#fff"/>
<path d="M816.92,403.71 L816.84,404.28 L816.62,404.82 L816.25,405.31 L815.78,405.72 L815.2,406.02 L814.56,406.21 L813.89,406.28 L813.21,406.21 L812.57,406.02 L812,405.72 L811.52,405.31 L811.16,404.82 L810.94,404.28 L810.86,403.71 L810.94,403.14 L811.16,402.6 L811.52,402.11 L812,401.7 L812.57,401.4 L813.21,401.21 L813.89,401.14 L814.56,401.21 L815.2,401.4 L815.78,401.7 L816.25,402.11 L816.62,402.6 L816.84,403.14 L816.92,403.71 Z M817.58,409.06 L817.49,409.68 L817.21,410.27 L816.77,410.79 L816.19,411.24 L815.49,411.57 L814.71,411.77 L813.89,411.84 L813.07,411.77 L812.29,411.57 L811.59,411.24 L811,410.79 L810.56,410.27 L810.29,409.68 L810.19,409.06 L810.29,408.44 L810.56,407.85 L811,407.33 L811.59,406.88 L812.29,406.55 L813.07,406.35 L813.89,406.28 L814.71,406.35 L815.49,406.55 L816.19,406.88 L816.77,407.33 L817.21,407.85 L817.49,408.44 L817.58,409.06 Z M831.39,406.49 L831.31,407.56 L831.04,408.6 L830.62,409.55 L830.05,410.38 L829.35,411.07 L828.55,411.57 L827.69,411.89 L826.79,411.99 L825.89,411.89 L825.03,411.57 L824.24,411.07 L823.54,410.38 L822.97,409.55 L822.54,408.6 L822.28,407.56 L822.19,406.49 L822.28,405.42 L822.54,404.39 L822.97,403.44 L823.54,402.6 L824.24,401.92 L825.03,401.41 L825.89,401.1 L826.79,400.99 L827.69,401.1 L828.55,401.41 L829.35,401.92 L830.05,402.6 L830.62,403.44 L831.04,404.39 L831.31,405.42 L831.39,406.49 Z" fill="none" stroke="#111111" stroke-width="2.3" stroke-linecap="butt" stroke-linejoin="round"/>
<rect x="848.61" y="399.34" width="32.60" height="30.70" fill="#fff"/>
<path d="M862.93,410.19 L858.07,422.04 M867.21,411.84 L867.41,411.46 L867.69,411.11 L868.03,410.81 L868.43,410.56 L868.86,410.37 L869.33,410.25 L869.82,410.19 L870.31,410.21 L870.79,410.29 L871.25,410.45 L871.67,410.66 L872.04,410.94 L872.35,411.26 L872.6,411.63 L872.77,412.02 L872.86,412.44 L872.88,412.86 L872.8,413.27 L872.65,413.67 L872.43,414.05 L872.13,414.38 L871.78,414.67 L871.37,414.91 L870.92,415.08 L870.44,415.18 L869.96,415.22 L870.16,415.22 L870.16,415.22 L870.73,415.26 L871.28,415.38 L871.8,415.57 L872.28,415.83 L872.69,416.16 L873.03,416.54 L873.3,416.96 L873.47,417.41 L873.55,417.88 L873.54,418.36 L873.43,418.83 L873.23,419.27 L872.95,419.68 L872.58,420.05 L872.15,420.36 L871.66,420.6 L871.13,420.77 L870.57,420.87 L870,420.89 L869.44,420.83 L868.89,420.69 L868.38,420.47 L867.92,420.19 L867.53,419.85 L867.2,419.46 L866.97,419.02" fill="none" stroke="#111111" stroke-width="2.3" stroke-linecap="butt" stroke-linejoin="round"/><path d="M855.11,409.04 L864.08,409.04 L864.08,411.34 L855.11,411.34 Z" fill="#111111"/>
<rect x="891.93" y="409.68" width="34.20" height="30.70" fill="#fff"/>
<path d="M906.96,428.02 L906.87,428.74 L906.6,429.41 L906.16,430.02 L905.57,430.53 L904.87,430.91 L904.09,431.15 L903.27,431.23 L902.45,431.15 L901.67,430.91 L900.97,430.53 L900.38,430.02 L899.94,429.41 L899.67,428.74 L899.58,428.02 L899.67,427.31 L899.94,426.63 L900.38,426.02 L900.97,425.51 L901.67,425.13 L902.45,424.89 L903.27,424.81 L904.09,424.89 L904.87,425.13 L905.57,425.51 L906.16,426.02 L906.6,426.63 L906.87,427.31 L906.96,428.02 Z M906.63,421.41 L906.13,421.05 L905.61,420.78 L905.07,420.61 L904.53,420.53 L903.98,420.56 L903.43,420.68 L902.9,420.89 L902.39,421.2 L901.9,421.6 L901.45,422.08 L901.04,422.64 L900.66,423.27 L900.34,423.97 L900.07,424.71 L899.86,425.5 L899.7,426.32 L899.61,427.17 L899.58,428.02 M912.33,421.22 L912.33,425.51 L912.81,425.3 L913.27,424.86 L913.8,424.51 L914.38,424.28 L914.98,424.18 L915.6,424.19 L916.2,424.34 L916.77,424.6 L917.28,424.97 L917.72,425.44 L918.07,425.99 L918.31,426.6 L918.45,427.25 L918.47,427.92 L918.37,428.57 L918.17,429.2 L917.85,429.77 L917.45,430.27 L916.96,430.68 L916.41,430.98 L915.82,431.17 L915.2,431.23 L914.59,431.17 L914,430.98 L913.45,430.68 L912.96,430.27 L912.55,429.77 L912.24,429.19" fill="none" stroke="#111111" stroke-width="2.3" stroke-linecap="butt" stroke-linejoin="round"/><path d="M911.18,419.38 L919.63,419.38 L919.63,421.68 L911.18,421.68 Z" fill="#111111"/>
<rect x="935.84" y="383.83" width="34.60" height="30.70" fill="#fff"/>
<path d="M950.21,397.25 L950.14,397.82 L949.91,398.36 L949.55,398.85 L949.07,399.25 L948.5,399.56 L947.86,399.75 L947.18,399.82 L946.51,399.75 L945.87,399.56 L945.3,399.25 L944.82,398.85 L944.46,398.36 L944.23,397.82 L944.16,397.25 L944.23,396.68 L944.46,396.13 L944.82,395.65 L945.3,395.24 L945.87,394.93 L946.51,394.74 L947.18,394.68 L947.86,394.74 L948.5,394.93 L949.07,395.24 L949.55,395.65 L949.91,396.13 L950.14,396.68 L950.21,397.25 Z M950.88,402.6 L950.78,403.22 L950.51,403.8 L950.07,404.33 L949.49,404.77 L948.79,405.1 L948.01,405.31 L947.18,405.38 L946.36,405.31 L945.58,405.1 L944.88,404.77 L944.3,404.33 L943.86,403.8 L943.58,403.22 L943.49,402.6 L943.58,401.98 L943.86,401.39 L944.3,400.86 L944.88,400.42 L945.58,400.09 L946.36,399.88 L947.18,399.82 L948.01,399.88 L948.79,400.09 L949.49,400.42 L950.07,400.86 L950.51,401.39 L950.78,401.98 L950.88,402.6 Z M956.64,395.37 L956.64,399.66 L957.12,399.45 L957.58,399 L958.11,398.66 L958.69,398.43 L959.3,398.33 L959.92,398.34 L960.52,398.49 L961.09,398.75 L961.6,399.12 L962.03,399.59 L962.38,400.14 L962.63,400.75 L962.77,401.4 L962.79,402.06 L962.69,402.72 L962.48,403.35 L962.17,403.92 L961.76,404.42 L961.27,404.83 L960.72,405.13 L960.13,405.32 L959.52,405.38 L958.9,405.32 L958.31,405.13 L957.76,404.82 L957.28,404.42 L956.87,403.91 L956.56,403.34" fill="none" stroke="#d3111d" stroke-width="2.3" stroke-linecap="butt" stroke-linejoin="round"/><path d="M955.49,393.53 L963.94,393.53 L963.94,395.83 L955.49,395.83 Z" fill="#d3111d"/>
<text x="0.00" y="586.80" font-size="19.2" font-weight="normal" fill="#6a6a64" stroke="#6a6a64" stroke-width="0.8" stroke-linejoin="round" textLength="38.49" lengthAdjust="spacing" transform="translate(536.43,0) scale(1.0309,1)">Leto</text>
<g transform="translate(68.4,331) rotate(-90)"><text x="0.00" y="0.00" font-size="19.2" font-weight="normal" fill="#6a6a64" stroke="#6a6a64" stroke-width="0.8" stroke-linejoin="round" textLength="61.91" lengthAdjust="spacing" transform="translate(-91.77,0) scale(1.0803,1)">Število</text><text x="0.00" y="0.00" font-size="19.2" font-weight="normal" fill="#6a6a64" stroke="#6a6a64" stroke-width="0.8" stroke-linejoin="round" textLength="56.68" lengthAdjust="spacing" transform="translate(-18.95,0) scale(1.0920,1)">umrlih</text><text x="0.00" y="0.00" font-size="19.2" font-weight="normal" fill="#6a6a64" stroke="#6a6a64" stroke-width="0.8" stroke-linejoin="round" transform="translate(49.33,0) scale(1.0120,1)">v</text><text x="65.53" y="0.00" font-size="19.2" font-weight="normal" fill="#6a6a64" stroke="#6a6a64" stroke-width="0.8" stroke-linejoin="round" textLength="26.64" lengthAdjust="spacing">PN</text></g>
</svg>
<div class="frame"></div>
</body></html>
